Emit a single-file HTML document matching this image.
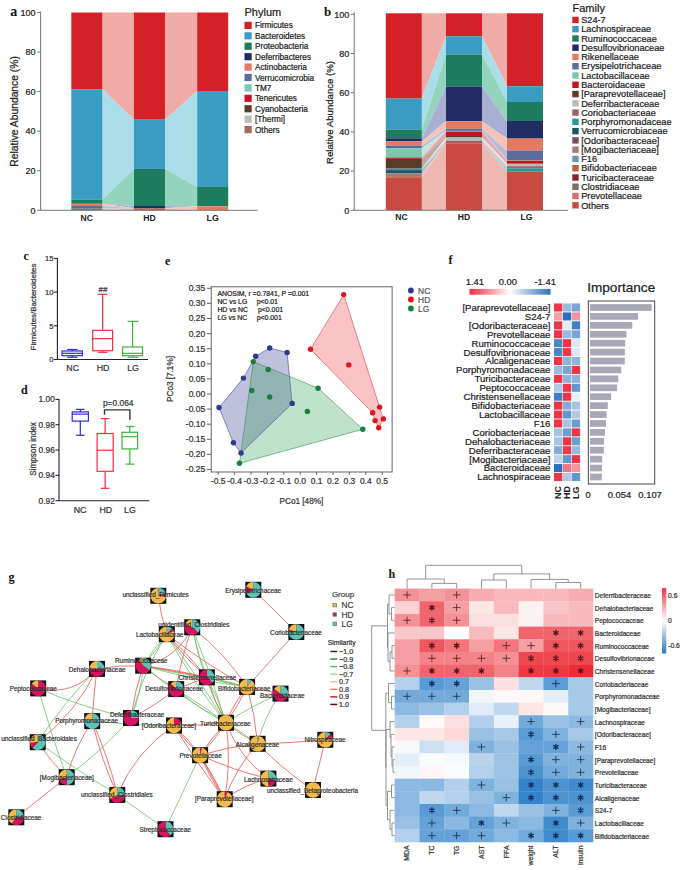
<!DOCTYPE html>
<html><head><meta charset="utf-8"><style>
html,body{margin:0;padding:0;background:#fff;width:683px;height:870px;overflow:hidden}
svg{display:block}
</style></head><body>
<svg width="683" height="870" viewBox="0 0 683 870">
<rect width="683" height="870" fill="#fff"/>
<text x="10.30" y="16.00" font-size="14" text-anchor="start" fill="#111" font-weight="bold" font-family='"Liberation Serif", serif' >a</text>
<polygon points="102.30,12.50 134.00,12.50 134.00,119.70 102.30,89.30" fill="#F0ABA6" />
<polygon points="102.30,89.30 134.00,119.70 134.00,168.90 102.30,199.80" fill="#A9DDE7" />
<polygon points="102.30,199.80 134.00,168.90 134.00,206.00 102.30,203.80" fill="#94D4BE" />
<polygon points="102.30,203.80 134.00,206.00 134.00,208.20 102.30,203.80" fill="#A8AFD2" />
<polygon points="102.30,203.80 134.00,208.20 134.00,208.20 102.30,206.00" fill="#F6C4B6" />
<polygon points="102.30,206.00 134.00,208.20 134.00,208.20 102.30,208.20" fill="#B6BDDA" />
<polygon points="102.30,208.20 134.00,208.20 134.00,208.20 102.30,210.30" fill="#c2c7c9" />
<polygon points="102.30,210.30 134.00,208.20 134.00,210.30 102.30,210.30" fill="#dabdbd" />
<polygon points="165.00,12.50 197.20,12.50 197.20,91.00 165.00,119.70" fill="#F0ABA6" />
<polygon points="165.00,119.70 197.20,91.00 197.20,187.00 165.00,168.90" fill="#A9DDE7" />
<polygon points="165.00,168.90 197.20,187.00 197.20,206.30 165.00,206.00" fill="#94D4BE" />
<polygon points="165.00,206.00 197.20,206.30 197.20,206.30 165.00,208.20" fill="#A8AFD2" />
<polygon points="165.00,208.20 197.20,206.30 197.20,210.30 165.00,208.20" fill="#F6C4B6" />
<polygon points="165.00,208.20 197.20,210.30 197.20,210.30 165.00,210.30" fill="#dabdbd" />
<rect x="71.30" y="12.50" width="31.00" height="76.80" fill="#D42027" />
<rect x="71.30" y="89.30" width="31.00" height="110.50" fill="#3A9CC0" />
<rect x="71.30" y="199.80" width="31.00" height="4.00" fill="#1D7D5E" />
<rect x="71.30" y="203.80" width="31.00" height="2.20" fill="#E57A63" />
<rect x="71.30" y="206.00" width="31.00" height="2.20" fill="#5B6B9B" />
<rect x="71.30" y="208.20" width="31.00" height="2.10" fill="#6E7C80" />
<rect x="134.00" y="12.50" width="31.00" height="107.20" fill="#D42027" />
<rect x="134.00" y="119.70" width="31.00" height="49.20" fill="#3A9CC0" />
<rect x="134.00" y="168.90" width="31.00" height="37.10" fill="#1D7D5E" />
<rect x="134.00" y="206.00" width="31.00" height="2.20" fill="#1F2D63" />
<rect x="134.00" y="208.20" width="31.00" height="2.10" fill="#A86464" />
<rect x="197.20" y="12.50" width="31.00" height="78.50" fill="#D42027" />
<rect x="197.20" y="91.00" width="31.00" height="96.00" fill="#3A9CC0" />
<rect x="197.20" y="187.00" width="31.00" height="19.30" fill="#1D7D5E" />
<rect x="197.20" y="206.30" width="31.00" height="4.00" fill="#E57A63" />
<line x1="40.60" y1="11.50" x2="40.60" y2="210.30" stroke="#777" stroke-width="1" />
<line x1="40.60" y1="210.30" x2="257.50" y2="210.30" stroke="#777" stroke-width="1" />
<line x1="37.10" y1="210.30" x2="40.60" y2="210.30" stroke="#777" stroke-width="1" />
<text x="35.60" y="213.50" font-size="9" text-anchor="end" fill="#222" font-weight="normal" font-family='"Liberation Sans", sans-serif'  stroke="#222" stroke-width="0.22">0</text>
<line x1="37.10" y1="170.74" x2="40.60" y2="170.74" stroke="#777" stroke-width="1" />
<text x="35.60" y="173.94" font-size="9" text-anchor="end" fill="#222" font-weight="normal" font-family='"Liberation Sans", sans-serif'  stroke="#222" stroke-width="0.22">20</text>
<line x1="37.10" y1="131.18" x2="40.60" y2="131.18" stroke="#777" stroke-width="1" />
<text x="35.60" y="134.38" font-size="9" text-anchor="end" fill="#222" font-weight="normal" font-family='"Liberation Sans", sans-serif'  stroke="#222" stroke-width="0.22">40</text>
<line x1="37.10" y1="91.62" x2="40.60" y2="91.62" stroke="#777" stroke-width="1" />
<text x="35.60" y="94.82" font-size="9" text-anchor="end" fill="#222" font-weight="normal" font-family='"Liberation Sans", sans-serif'  stroke="#222" stroke-width="0.22">60</text>
<line x1="37.10" y1="52.06" x2="40.60" y2="52.06" stroke="#777" stroke-width="1" />
<text x="35.60" y="55.26" font-size="9" text-anchor="end" fill="#222" font-weight="normal" font-family='"Liberation Sans", sans-serif'  stroke="#222" stroke-width="0.22">80</text>
<line x1="37.10" y1="12.50" x2="40.60" y2="12.50" stroke="#777" stroke-width="1" />
<text x="35.60" y="15.70" font-size="9" text-anchor="end" fill="#222" font-weight="normal" font-family='"Liberation Sans", sans-serif'  stroke="#222" stroke-width="0.22">100</text>
<text x="86.80" y="220.80" font-size="9.5" text-anchor="middle" fill="#222" font-weight="bold" font-family='"Liberation Sans", sans-serif' textLength="12.4" lengthAdjust="spacingAndGlyphs">NC</text>
<text x="149.50" y="220.80" font-size="9.5" text-anchor="middle" fill="#222" font-weight="bold" font-family='"Liberation Sans", sans-serif' textLength="12.4" lengthAdjust="spacingAndGlyphs">HD</text>
<text x="212.70" y="220.80" font-size="9.5" text-anchor="middle" fill="#222" font-weight="bold" font-family='"Liberation Sans", sans-serif' textLength="12.4" lengthAdjust="spacingAndGlyphs">LG</text>
<text x="18.00" y="111.40" font-size="10.3" text-anchor="middle" fill="#222" font-weight="normal" font-family='"Liberation Sans", sans-serif' transform="rotate(-90 18 111.4)"  stroke="#222" stroke-width="0.22">Relative Abundance (%)</text>
<text x="244.50" y="15.50" font-size="11" text-anchor="start" fill="#222" font-weight="normal" font-family='"Liberation Sans", sans-serif'  stroke="#222" stroke-width="0.22">Phylum</text>
<rect x="244.50" y="21.80" width="7.20" height="7.20" fill="#D42027" />
<text x="255.00" y="28.40" font-size="8.2" text-anchor="start" fill="#222" font-weight="normal" font-family='"Liberation Sans", sans-serif'  stroke="#222" stroke-width="0.22">Firmicutes</text>
<rect x="244.50" y="32.22" width="7.20" height="7.20" fill="#3A9CC0" />
<text x="255.00" y="38.82" font-size="8.2" text-anchor="start" fill="#222" font-weight="normal" font-family='"Liberation Sans", sans-serif'  stroke="#222" stroke-width="0.22">Bacteroidetes</text>
<rect x="244.50" y="42.64" width="7.20" height="7.20" fill="#1D7D5E" />
<text x="255.00" y="49.24" font-size="8.2" text-anchor="start" fill="#222" font-weight="normal" font-family='"Liberation Sans", sans-serif'  stroke="#222" stroke-width="0.22">Proteobacteria</text>
<rect x="244.50" y="53.06" width="7.20" height="7.20" fill="#1F2D63" />
<text x="255.00" y="59.66" font-size="8.2" text-anchor="start" fill="#222" font-weight="normal" font-family='"Liberation Sans", sans-serif'  stroke="#222" stroke-width="0.22">Deferribacteres</text>
<rect x="244.50" y="63.48" width="7.20" height="7.20" fill="#E57A63" />
<text x="255.00" y="70.08" font-size="8.2" text-anchor="start" fill="#222" font-weight="normal" font-family='"Liberation Sans", sans-serif'  stroke="#222" stroke-width="0.22">Actinobacteria</text>
<rect x="244.50" y="73.90" width="7.20" height="7.20" fill="#5B6B9B" />
<text x="255.00" y="80.50" font-size="8.2" text-anchor="start" fill="#222" font-weight="normal" font-family='"Liberation Sans", sans-serif'  stroke="#222" stroke-width="0.22">Verrucomicrobia</text>
<rect x="244.50" y="84.32" width="7.20" height="7.20" fill="#7CC8AE" />
<text x="255.00" y="90.92" font-size="8.2" text-anchor="start" fill="#222" font-weight="normal" font-family='"Liberation Sans", sans-serif'  stroke="#222" stroke-width="0.22">TM7</text>
<rect x="244.50" y="94.74" width="7.20" height="7.20" fill="#C8101E" />
<text x="255.00" y="101.34" font-size="8.2" text-anchor="start" fill="#222" font-weight="normal" font-family='"Liberation Sans", sans-serif'  stroke="#222" stroke-width="0.22">Tenericutes</text>
<rect x="244.50" y="105.16" width="7.20" height="7.20" fill="#5C3A28" />
<text x="255.00" y="111.76" font-size="8.2" text-anchor="start" fill="#222" font-weight="normal" font-family='"Liberation Sans", sans-serif'  stroke="#222" stroke-width="0.22">Cyanobacteria</text>
<rect x="244.50" y="115.58" width="7.20" height="7.20" fill="#B8BCB8" />
<text x="255.00" y="122.18" font-size="8.2" text-anchor="start" fill="#222" font-weight="normal" font-family='"Liberation Sans", sans-serif'  stroke="#222" stroke-width="0.22">[Thermi]</text>
<rect x="244.50" y="126.00" width="7.20" height="7.20" fill="#A86464" />
<text x="255.00" y="132.60" font-size="8.2" text-anchor="start" fill="#222" font-weight="normal" font-family='"Liberation Sans", sans-serif'  stroke="#222" stroke-width="0.22">Others</text>
<text x="324.00" y="16.00" font-size="13" text-anchor="start" fill="#111" font-weight="bold" font-family='"Liberation Serif", serif' >b</text>
<polygon points="421.80,13.30 446.00,13.30 446.00,36.40 421.80,98.60" fill="#F0ABA6" />
<polygon points="421.80,98.60 446.00,36.40 446.00,54.60 421.80,129.60" fill="#A9DDE7" />
<polygon points="421.80,129.60 446.00,54.60 446.00,86.50 421.80,138.30" fill="#94D4BE" />
<polygon points="421.80,138.30 446.00,86.50 446.00,121.30 421.80,141.40" fill="#A8AFD2" />
<polygon points="421.80,141.40 446.00,121.30 446.00,128.70 421.80,145.50" fill="#F6C4B6" />
<polygon points="421.80,145.50 446.00,128.70 446.00,130.90 421.80,148.40" fill="#B6BDDA" />
<polygon points="421.80,148.40 446.00,130.90 446.00,131.60 421.80,157.60" fill="#C2E8DA" />
<polygon points="421.80,157.60 446.00,131.60 446.00,136.00 421.80,158.80" fill="#F0A0A8" />
<polygon points="421.80,158.80 446.00,136.00 446.00,137.50 421.80,168.60" fill="#baaca4" />
<polygon points="421.80,168.60 446.00,137.50 446.00,140.70 421.80,168.60" fill="#e1e2e1" />
<polygon points="421.80,168.60 446.00,140.70 446.00,143.30 421.80,168.60" fill="#d7bcbf" />
<polygon points="421.80,168.60 446.00,143.30 446.00,143.30 421.80,170.10" fill="#a5d4d2" />
<polygon points="421.80,170.10 446.00,143.30 446.00,143.30 421.80,173.20" fill="#a0b7be" />
<polygon points="421.80,173.20 446.00,143.30 446.00,143.30 421.80,176.20" fill="#dac6c9" />
<polygon points="421.80,176.20 446.00,143.30 446.00,143.30 421.80,177.80" fill="#e1bcad" />
<polygon points="421.80,177.80 446.00,143.30 446.00,210.30 421.80,210.30" fill="#EDB7B2" />
<polygon points="482.00,13.30 507.00,13.30 507.00,86.20 482.00,36.40" fill="#F0ABA6" />
<polygon points="482.00,36.40 507.00,86.20 507.00,102.00 482.00,54.60" fill="#A9DDE7" />
<polygon points="482.00,54.60 507.00,102.00 507.00,121.00 482.00,86.50" fill="#94D4BE" />
<polygon points="482.00,86.50 507.00,121.00 507.00,138.60 482.00,121.30" fill="#A8AFD2" />
<polygon points="482.00,121.30 507.00,138.60 507.00,150.50 482.00,128.70" fill="#F6C4B6" />
<polygon points="482.00,128.70 507.00,150.50 507.00,160.00 482.00,130.90" fill="#B6BDDA" />
<polygon points="482.00,130.90 507.00,160.00 507.00,160.70 482.00,131.60" fill="#C2E8DA" />
<polygon points="482.00,131.60 507.00,160.70 507.00,163.80 482.00,136.00" fill="#F0A0A8" />
<polygon points="482.00,136.00 507.00,163.80 507.00,163.80 482.00,137.50" fill="#baaca4" />
<polygon points="482.00,137.50 507.00,163.80 507.00,166.20 482.00,140.70" fill="#e1e2e1" />
<polygon points="482.00,140.70 507.00,166.20 507.00,168.20 482.00,143.30" fill="#d7bcbf" />
<polygon points="482.00,143.30 507.00,168.20 507.00,171.70 482.00,143.30" fill="#a5d4d2" />
<polygon points="482.00,143.30 507.00,171.70 507.00,210.30 482.00,210.30" fill="#EDB7B2" />
<rect x="385.80" y="13.30" width="36.00" height="85.30" fill="#D42027" />
<rect x="385.80" y="98.60" width="36.00" height="31.00" fill="#3A9CC0" />
<rect x="385.80" y="129.60" width="36.00" height="8.70" fill="#1D7D5E" />
<rect x="385.80" y="138.30" width="36.00" height="3.10" fill="#1F2D63" />
<rect x="385.80" y="141.40" width="36.00" height="4.10" fill="#E57A63" />
<rect x="385.80" y="145.50" width="36.00" height="2.90" fill="#5B6B9B" />
<rect x="385.80" y="148.40" width="36.00" height="9.20" fill="#7CC8AE" />
<rect x="385.80" y="157.60" width="36.00" height="1.20" fill="#C8101E" />
<rect x="385.80" y="158.80" width="36.00" height="9.80" fill="#5C3A28" />
<rect x="385.80" y="168.60" width="36.00" height="1.50" fill="#2A9A94" />
<rect x="385.80" y="170.10" width="36.00" height="3.10" fill="#1D5566" />
<rect x="385.80" y="173.20" width="36.00" height="3.00" fill="#A87880" />
<rect x="385.80" y="176.20" width="36.00" height="1.60" fill="#B8603E" />
<rect x="385.80" y="177.80" width="36.00" height="32.50" fill="#C84A40" />
<rect x="446.00" y="13.30" width="36.00" height="23.10" fill="#D42027" />
<rect x="446.00" y="36.40" width="36.00" height="18.20" fill="#3A9CC0" />
<rect x="446.00" y="54.60" width="36.00" height="31.90" fill="#1D7D5E" />
<rect x="446.00" y="86.50" width="36.00" height="34.80" fill="#1F2D63" />
<rect x="446.00" y="121.30" width="36.00" height="7.40" fill="#E57A63" />
<rect x="446.00" y="128.70" width="36.00" height="2.20" fill="#5B6B9B" />
<rect x="446.00" y="130.90" width="36.00" height="0.70" fill="#7CC8AE" />
<rect x="446.00" y="131.60" width="36.00" height="4.40" fill="#C8101E" />
<rect x="446.00" y="136.00" width="36.00" height="1.50" fill="#5C3A28" />
<rect x="446.00" y="137.50" width="36.00" height="3.20" fill="#B8BCB8" />
<rect x="446.00" y="140.70" width="36.00" height="2.60" fill="#A06068" />
<rect x="446.00" y="143.30" width="36.00" height="67.00" fill="#C84A40" />
<rect x="507.00" y="13.30" width="36.00" height="72.90" fill="#D42027" />
<rect x="507.00" y="86.20" width="36.00" height="15.80" fill="#3A9CC0" />
<rect x="507.00" y="102.00" width="36.00" height="19.00" fill="#1D7D5E" />
<rect x="507.00" y="121.00" width="36.00" height="17.60" fill="#1F2D63" />
<rect x="507.00" y="138.60" width="36.00" height="11.90" fill="#E57A63" />
<rect x="507.00" y="150.50" width="36.00" height="9.50" fill="#5B6B9B" />
<rect x="507.00" y="160.00" width="36.00" height="0.70" fill="#7CC8AE" />
<rect x="507.00" y="160.70" width="36.00" height="3.10" fill="#C8101E" />
<rect x="507.00" y="163.80" width="36.00" height="2.40" fill="#B8BCB8" />
<rect x="507.00" y="166.20" width="36.00" height="2.00" fill="#A06068" />
<rect x="507.00" y="168.20" width="36.00" height="3.50" fill="#2A9A94" />
<rect x="507.00" y="171.70" width="36.00" height="38.60" fill="#C84A40" />
<line x1="354.20" y1="12.30" x2="354.20" y2="210.30" stroke="#777" stroke-width="1" />
<line x1="354.20" y1="210.30" x2="568.00" y2="210.30" stroke="#777" stroke-width="1" />
<line x1="350.70" y1="210.30" x2="354.20" y2="210.30" stroke="#777" stroke-width="1" />
<text x="349.20" y="213.50" font-size="9" text-anchor="end" fill="#222" font-weight="normal" font-family='"Liberation Sans", sans-serif'  stroke="#222" stroke-width="0.22">0</text>
<line x1="350.70" y1="171.10" x2="354.20" y2="171.10" stroke="#777" stroke-width="1" />
<text x="349.20" y="174.30" font-size="9" text-anchor="end" fill="#222" font-weight="normal" font-family='"Liberation Sans", sans-serif'  stroke="#222" stroke-width="0.22">20</text>
<line x1="350.70" y1="131.90" x2="354.20" y2="131.90" stroke="#777" stroke-width="1" />
<text x="349.20" y="135.10" font-size="9" text-anchor="end" fill="#222" font-weight="normal" font-family='"Liberation Sans", sans-serif'  stroke="#222" stroke-width="0.22">40</text>
<line x1="350.70" y1="92.70" x2="354.20" y2="92.70" stroke="#777" stroke-width="1" />
<text x="349.20" y="95.90" font-size="9" text-anchor="end" fill="#222" font-weight="normal" font-family='"Liberation Sans", sans-serif'  stroke="#222" stroke-width="0.22">60</text>
<line x1="350.70" y1="53.50" x2="354.20" y2="53.50" stroke="#777" stroke-width="1" />
<text x="349.20" y="56.70" font-size="9" text-anchor="end" fill="#222" font-weight="normal" font-family='"Liberation Sans", sans-serif'  stroke="#222" stroke-width="0.22">80</text>
<line x1="350.70" y1="14.30" x2="354.20" y2="14.30" stroke="#777" stroke-width="1" />
<text x="349.20" y="17.50" font-size="9" text-anchor="end" fill="#222" font-weight="normal" font-family='"Liberation Sans", sans-serif'  stroke="#222" stroke-width="0.22">100</text>
<text x="401.50" y="219.90" font-size="8.6" text-anchor="middle" fill="#222" font-weight="bold" font-family='"Liberation Sans", sans-serif' >NC</text>
<text x="464.00" y="219.90" font-size="8.6" text-anchor="middle" fill="#222" font-weight="bold" font-family='"Liberation Sans", sans-serif' >HD</text>
<text x="526.50" y="219.90" font-size="8.6" text-anchor="middle" fill="#222" font-weight="bold" font-family='"Liberation Sans", sans-serif' >LG</text>
<text x="332.50" y="112.50" font-size="9.6" text-anchor="middle" fill="#222" font-weight="normal" font-family='"Liberation Sans", sans-serif' transform="rotate(-90 332.5 112.5)"  stroke="#222" stroke-width="0.22">Relative Abundance (%)</text>
<text x="572.50" y="11.70" font-size="11" text-anchor="start" fill="#222" font-weight="normal" font-family='"Liberation Sans", sans-serif'  stroke="#222" stroke-width="0.22">Family</text>
<rect x="572.30" y="16.70" width="6.40" height="6.40" fill="#D42027" />
<text x="581.20" y="23.10" font-size="9.2" text-anchor="start" fill="#222" font-weight="normal" font-family='"Liberation Sans", sans-serif'  stroke="#222" stroke-width="0.22">S24-7</text>
<rect x="572.30" y="25.97" width="6.40" height="6.40" fill="#3A9CC0" />
<text x="581.20" y="32.37" font-size="9.2" text-anchor="start" fill="#222" font-weight="normal" font-family='"Liberation Sans", sans-serif'  stroke="#222" stroke-width="0.22">Lachnospiraceae</text>
<rect x="572.30" y="35.24" width="6.40" height="6.40" fill="#1D7D5E" />
<text x="581.20" y="41.64" font-size="9.2" text-anchor="start" fill="#222" font-weight="normal" font-family='"Liberation Sans", sans-serif'  stroke="#222" stroke-width="0.22">Ruminococcaceae</text>
<rect x="572.30" y="44.51" width="6.40" height="6.40" fill="#1F2D63" />
<text x="581.20" y="50.91" font-size="9.2" text-anchor="start" fill="#222" font-weight="normal" font-family='"Liberation Sans", sans-serif'  stroke="#222" stroke-width="0.22">Desulfovibrionaceae</text>
<rect x="572.30" y="53.78" width="6.40" height="6.40" fill="#E57A63" />
<text x="581.20" y="60.18" font-size="9.2" text-anchor="start" fill="#222" font-weight="normal" font-family='"Liberation Sans", sans-serif'  stroke="#222" stroke-width="0.22">Rikenellaceae</text>
<rect x="572.30" y="63.05" width="6.40" height="6.40" fill="#5B6B9B" />
<text x="581.20" y="69.45" font-size="9.2" text-anchor="start" fill="#222" font-weight="normal" font-family='"Liberation Sans", sans-serif'  stroke="#222" stroke-width="0.22">Erysipelotrichaceae</text>
<rect x="572.30" y="72.32" width="6.40" height="6.40" fill="#7CC8AE" />
<text x="581.20" y="78.72" font-size="9.2" text-anchor="start" fill="#222" font-weight="normal" font-family='"Liberation Sans", sans-serif'  stroke="#222" stroke-width="0.22">Lactobacillaceae</text>
<rect x="572.30" y="81.59" width="6.40" height="6.40" fill="#C8101E" />
<text x="581.20" y="87.99" font-size="9.2" text-anchor="start" fill="#222" font-weight="normal" font-family='"Liberation Sans", sans-serif'  stroke="#222" stroke-width="0.22">Bacteroidaceae</text>
<rect x="572.30" y="90.86" width="6.40" height="6.40" fill="#5C3A28" />
<text x="581.20" y="97.26" font-size="9.2" text-anchor="start" fill="#222" font-weight="normal" font-family='"Liberation Sans", sans-serif'  stroke="#222" stroke-width="0.22">[Paraprevotellaceae]</text>
<rect x="572.30" y="100.13" width="6.40" height="6.40" fill="#B8BCB8" />
<text x="581.20" y="106.53" font-size="9.2" text-anchor="start" fill="#222" font-weight="normal" font-family='"Liberation Sans", sans-serif'  stroke="#222" stroke-width="0.22">Deferribacteraceae</text>
<rect x="572.30" y="109.40" width="6.40" height="6.40" fill="#A06068" />
<text x="581.20" y="115.80" font-size="9.2" text-anchor="start" fill="#222" font-weight="normal" font-family='"Liberation Sans", sans-serif'  stroke="#222" stroke-width="0.22">Coriobacteriaceae</text>
<rect x="572.30" y="118.67" width="6.40" height="6.40" fill="#2A9A94" />
<text x="581.20" y="125.07" font-size="9.2" text-anchor="start" fill="#222" font-weight="normal" font-family='"Liberation Sans", sans-serif'  stroke="#222" stroke-width="0.22">Porphyromonadaceae</text>
<rect x="572.30" y="127.94" width="6.40" height="6.40" fill="#1D5566" />
<text x="581.20" y="134.34" font-size="9.2" text-anchor="start" fill="#222" font-weight="normal" font-family='"Liberation Sans", sans-serif'  stroke="#222" stroke-width="0.22">Verrucomicrobiaceae</text>
<rect x="572.30" y="137.21" width="6.40" height="6.40" fill="#7A4A68" />
<text x="581.20" y="143.61" font-size="9.2" text-anchor="start" fill="#222" font-weight="normal" font-family='"Liberation Sans", sans-serif'  stroke="#222" stroke-width="0.22">[Odoribacteraceae]</text>
<rect x="572.30" y="146.48" width="6.40" height="6.40" fill="#A87880" />
<text x="581.20" y="152.88" font-size="9.2" text-anchor="start" fill="#222" font-weight="normal" font-family='"Liberation Sans", sans-serif'  stroke="#222" stroke-width="0.22">[Mogibacteriaceae]</text>
<rect x="572.30" y="155.75" width="6.40" height="6.40" fill="#6A9AA8" />
<text x="581.20" y="162.15" font-size="9.2" text-anchor="start" fill="#222" font-weight="normal" font-family='"Liberation Sans", sans-serif'  stroke="#222" stroke-width="0.22">F16</text>
<rect x="572.30" y="165.02" width="6.40" height="6.40" fill="#B8603E" />
<text x="581.20" y="171.42" font-size="9.2" text-anchor="start" fill="#222" font-weight="normal" font-family='"Liberation Sans", sans-serif'  stroke="#222" stroke-width="0.22">Bifidobacteriaceae</text>
<rect x="572.30" y="174.29" width="6.40" height="6.40" fill="#8A2424" />
<text x="581.20" y="180.69" font-size="9.2" text-anchor="start" fill="#222" font-weight="normal" font-family='"Liberation Sans", sans-serif'  stroke="#222" stroke-width="0.22">Turicibacteraceae</text>
<rect x="572.30" y="183.56" width="6.40" height="6.40" fill="#7A7262" />
<text x="581.20" y="189.96" font-size="9.2" text-anchor="start" fill="#222" font-weight="normal" font-family='"Liberation Sans", sans-serif'  stroke="#222" stroke-width="0.22">Clostridiaceae</text>
<rect x="572.30" y="192.83" width="6.40" height="6.40" fill="#D87068" />
<text x="581.20" y="199.23" font-size="9.2" text-anchor="start" fill="#222" font-weight="normal" font-family='"Liberation Sans", sans-serif'  stroke="#222" stroke-width="0.22">Prevotellaceae</text>
<rect x="572.30" y="202.10" width="6.40" height="6.40" fill="#C84A40" />
<text x="581.20" y="208.50" font-size="9.2" text-anchor="start" fill="#222" font-weight="normal" font-family='"Liberation Sans", sans-serif'  stroke="#222" stroke-width="0.22">Others</text>
<text x="23.50" y="259.80" font-size="12" text-anchor="start" fill="#111" font-weight="bold" font-family='"Liberation Serif", serif' >c</text>
<line x1="57.40" y1="257.90" x2="57.40" y2="359.50" stroke="#222" stroke-width="1.1" />
<line x1="57.40" y1="359.50" x2="148.00" y2="359.50" stroke="#222" stroke-width="1.1" />
<line x1="53.90" y1="359.50" x2="57.40" y2="359.50" stroke="#222" stroke-width="1.1" />
<text x="53.40" y="362.20" font-size="7.6" text-anchor="end" fill="#333" font-weight="normal" font-family='"Liberation Sans", sans-serif'  stroke="#333" stroke-width="0.22">0</text>
<line x1="53.90" y1="325.80" x2="57.40" y2="325.80" stroke="#222" stroke-width="1.1" />
<text x="53.40" y="328.50" font-size="7.6" text-anchor="end" fill="#333" font-weight="normal" font-family='"Liberation Sans", sans-serif'  stroke="#333" stroke-width="0.22">5</text>
<line x1="53.90" y1="292.10" x2="57.40" y2="292.10" stroke="#222" stroke-width="1.1" />
<text x="53.40" y="294.80" font-size="7.6" text-anchor="end" fill="#333" font-weight="normal" font-family='"Liberation Sans", sans-serif'  stroke="#333" stroke-width="0.22">10</text>
<line x1="53.90" y1="258.40" x2="57.40" y2="258.40" stroke="#222" stroke-width="1.1" />
<text x="53.40" y="261.10" font-size="7.6" text-anchor="end" fill="#333" font-weight="normal" font-family='"Liberation Sans", sans-serif'  stroke="#333" stroke-width="0.22">15</text>
<g stroke="#2B2BD8" stroke-width="1.2" fill="none">
<rect x="62.00" y="351.00" width="20.40" height="4.70"/>
<line x1="62.00" y1="353.30" x2="82.40" y2="353.30"/>
<line x1="72.20" y1="351.00" x2="72.20" y2="349.50"/>
<line x1="72.20" y1="355.70" x2="72.20" y2="357.20"/>
<line x1="67.20" y1="349.50" x2="77.50" y2="349.50"/>
<line x1="67.20" y1="357.20" x2="77.50" y2="357.20"/>
</g>
<g stroke="#E8323C" stroke-width="1.2" fill="none">
<rect x="92.70" y="330.30" width="19.90" height="20.40"/>
<line x1="92.70" y1="338.70" x2="112.60" y2="338.70"/>
<line x1="102.65" y1="330.30" x2="102.65" y2="294.30"/>
<line x1="102.65" y1="350.70" x2="102.65" y2="352.30"/>
<line x1="97.80" y1="294.30" x2="107.50" y2="294.30"/>
<line x1="97.80" y1="352.30" x2="107.50" y2="352.30"/>
</g>
<g stroke="#3CB33C" stroke-width="1.2" fill="none">
<rect x="122.60" y="347.00" width="20.00" height="8.70"/>
<line x1="122.60" y1="353.30" x2="142.60" y2="353.30"/>
<line x1="132.60" y1="347.00" x2="132.60" y2="321.40"/>
<line x1="132.60" y1="355.70" x2="132.60" y2="357.20"/>
<line x1="127.60" y1="321.40" x2="138.60" y2="321.40"/>
<line x1="127.60" y1="357.20" x2="138.60" y2="357.20"/>
</g>
<text x="103.00" y="291.60" font-size="8" text-anchor="middle" fill="#333" font-weight="normal" font-family='"Liberation Sans", sans-serif'  stroke="#333" stroke-width="0.22">##</text>
<text x="72.70" y="371.40" font-size="8.8" text-anchor="middle" fill="#333" font-weight="normal" font-family='"Liberation Sans", sans-serif'  stroke="#333" stroke-width="0.22">NC</text>
<text x="103.00" y="371.40" font-size="8.8" text-anchor="middle" fill="#333" font-weight="normal" font-family='"Liberation Sans", sans-serif'  stroke="#333" stroke-width="0.22">HD</text>
<text x="133.10" y="371.40" font-size="8.8" text-anchor="middle" fill="#333" font-weight="normal" font-family='"Liberation Sans", sans-serif'  stroke="#333" stroke-width="0.22">LG</text>
<text x="36.20" y="307.00" font-size="7.9" text-anchor="middle" fill="#333" font-weight="normal" font-family='"Liberation Sans", sans-serif' transform="rotate(-90 36.2 307)"  stroke="#333" stroke-width="0.22">Firmicutes/Bacteroidetes</text>
<text x="21.00" y="393.50" font-size="12" text-anchor="start" fill="#111" font-weight="bold" font-family='"Liberation Serif", serif' >d</text>
<line x1="59.00" y1="398.90" x2="59.00" y2="500.70" stroke="#222" stroke-width="1.1" />
<line x1="59.00" y1="500.70" x2="149.30" y2="500.70" stroke="#222" stroke-width="1.1" />
<line x1="55.50" y1="500.70" x2="59.00" y2="500.70" stroke="#222" stroke-width="1.1" />
<text x="54.80" y="503.70" font-size="8.4" text-anchor="end" fill="#333" font-weight="normal" font-family='"Liberation Sans", sans-serif'  stroke="#333" stroke-width="0.22">0.92</text>
<line x1="55.50" y1="475.38" x2="59.00" y2="475.38" stroke="#222" stroke-width="1.1" />
<text x="54.80" y="478.38" font-size="8.4" text-anchor="end" fill="#333" font-weight="normal" font-family='"Liberation Sans", sans-serif'  stroke="#333" stroke-width="0.22">0.94</text>
<line x1="55.50" y1="450.05" x2="59.00" y2="450.05" stroke="#222" stroke-width="1.1" />
<text x="54.80" y="453.05" font-size="8.4" text-anchor="end" fill="#333" font-weight="normal" font-family='"Liberation Sans", sans-serif'  stroke="#333" stroke-width="0.22">0.96</text>
<line x1="55.50" y1="424.72" x2="59.00" y2="424.72" stroke="#222" stroke-width="1.1" />
<text x="54.80" y="427.72" font-size="8.4" text-anchor="end" fill="#333" font-weight="normal" font-family='"Liberation Sans", sans-serif'  stroke="#333" stroke-width="0.22">0.98</text>
<line x1="55.50" y1="399.40" x2="59.00" y2="399.40" stroke="#222" stroke-width="1.1" />
<text x="54.80" y="402.40" font-size="8.4" text-anchor="end" fill="#333" font-weight="normal" font-family='"Liberation Sans", sans-serif'  stroke="#333" stroke-width="0.22">1.00</text>
<g stroke="#2B2BD8" stroke-width="1.2" fill="none">
<rect x="72.20" y="411.90" width="16.20" height="9.20"/>
<line x1="72.20" y1="414.10" x2="88.40" y2="414.10"/>
<line x1="80.30" y1="411.90" x2="80.30" y2="409.40"/>
<line x1="80.30" y1="421.10" x2="80.30" y2="435.30"/>
<line x1="75.90" y1="409.40" x2="84.60" y2="409.40"/>
<line x1="75.90" y1="435.30" x2="84.60" y2="435.30"/>
</g>
<g stroke="#E8323C" stroke-width="1.2" fill="none">
<rect x="97.10" y="433.50" width="16.10" height="37.80"/>
<line x1="97.10" y1="450.20" x2="113.20" y2="450.20"/>
<line x1="105.15" y1="433.50" x2="105.15" y2="418.60"/>
<line x1="105.15" y1="471.30" x2="105.15" y2="488.30"/>
<line x1="100.80" y1="418.60" x2="109.50" y2="418.60"/>
<line x1="100.80" y1="488.30" x2="109.50" y2="488.30"/>
</g>
<g stroke="#3CB33C" stroke-width="1.2" fill="none">
<rect x="122.00" y="432.30" width="15.60" height="16.60"/>
<line x1="122.00" y1="436.70" x2="137.60" y2="436.70"/>
<line x1="129.80" y1="432.30" x2="129.80" y2="426.50"/>
<line x1="129.80" y1="448.90" x2="129.80" y2="464.10"/>
<line x1="125.70" y1="426.50" x2="134.40" y2="426.50"/>
<line x1="125.70" y1="464.10" x2="134.40" y2="464.10"/>
</g>
<polyline points="104.5,414.8 104.5,409.9 129.9,409.9 129.9,419.8" fill="none" stroke="#333" stroke-width="1.4"/>
<text x="118.20" y="405.90" font-size="8.4" text-anchor="middle" fill="#333" font-weight="normal" font-family='"Liberation Sans", sans-serif'  stroke="#333" stroke-width="0.22">p=0.064</text>
<text x="80.10" y="512.60" font-size="8.8" text-anchor="middle" fill="#333" font-weight="normal" font-family='"Liberation Sans", sans-serif'  stroke="#333" stroke-width="0.22">NC</text>
<text x="105.80" y="512.60" font-size="8.8" text-anchor="middle" fill="#333" font-weight="normal" font-family='"Liberation Sans", sans-serif'  stroke="#333" stroke-width="0.22">HD</text>
<text x="129.90" y="512.60" font-size="8.8" text-anchor="middle" fill="#333" font-weight="normal" font-family='"Liberation Sans", sans-serif'  stroke="#333" stroke-width="0.22">LG</text>
<text x="36.30" y="449.00" font-size="8.2" text-anchor="middle" fill="#333" font-weight="normal" font-family='"Liberation Sans", sans-serif' transform="rotate(-90 36.3 449)"  stroke="#333" stroke-width="0.22">Simpson index</text>
<text x="165.00" y="265.00" font-size="12" text-anchor="start" fill="#111" font-weight="bold" font-family='"Liberation Serif", serif' >e</text>
<rect x="211.20" y="286.80" width="180.90" height="185.20" fill="none" stroke="#555" stroke-width="0.9"/>
<polygon points="219.00,407.50 243.40,378.10 255.70,356.20 269.70,348.00 287.10,352.50 292.20,403.40 241.00,453.00 233.40,442.80" fill="#3A3F96" fill-opacity="0.33" stroke="#3A3F96" stroke-opacity="0.8" stroke-width="0.7"/>
<polygon points="253.30,361.70 318.10,388.20 362.80,429.20 239.50,463.30" fill="#2E9A55" fill-opacity="0.3" stroke="#2E8A4A" stroke-opacity="0.8" stroke-width="0.7"/>
<polygon points="343.70,294.60 383.30,418.90 378.70,427.80 375.10,420.60 372.60,412.80 310.50,349.30" fill="#EE3A44" fill-opacity="0.3" stroke="#D8303A" stroke-opacity="0.8" stroke-width="0.7"/>
<circle cx="219.0" cy="407.5" r="2.7" fill="#2E3A8C"/>
<circle cx="243.4" cy="378.1" r="2.7" fill="#2E3A8C"/>
<circle cx="255.7" cy="356.2" r="2.7" fill="#2E3A8C"/>
<circle cx="269.7" cy="348.0" r="2.7" fill="#2E3A8C"/>
<circle cx="287.1" cy="352.5" r="2.7" fill="#2E3A8C"/>
<circle cx="292.2" cy="403.4" r="2.7" fill="#2E3A8C"/>
<circle cx="241.0" cy="453.0" r="2.7" fill="#2E3A8C"/>
<circle cx="233.4" cy="442.8" r="2.7" fill="#2E3A8C"/>
<circle cx="253.3" cy="361.7" r="2.7" fill="#17803A"/>
<circle cx="268.2" cy="369.5" r="2.7" fill="#17803A"/>
<circle cx="251.8" cy="390.5" r="2.7" fill="#17803A"/>
<circle cx="269.7" cy="397.0" r="2.7" fill="#17803A"/>
<circle cx="318.1" cy="388.2" r="2.7" fill="#17803A"/>
<circle cx="307.4" cy="411.4" r="2.7" fill="#17803A"/>
<circle cx="362.8" cy="429.2" r="2.7" fill="#17803A"/>
<circle cx="239.5" cy="463.3" r="2.7" fill="#17803A"/>
<circle cx="343.7" cy="294.6" r="2.7" fill="#E3131B"/>
<circle cx="310.5" cy="349.3" r="2.7" fill="#E3131B"/>
<circle cx="348.8" cy="364.9" r="2.7" fill="#E3131B"/>
<circle cx="379.6" cy="407.1" r="2.7" fill="#E3131B"/>
<circle cx="372.6" cy="412.8" r="2.7" fill="#E3131B"/>
<circle cx="383.3" cy="418.9" r="2.7" fill="#E3131B"/>
<circle cx="375.1" cy="420.6" r="2.7" fill="#E3131B"/>
<circle cx="378.7" cy="427.8" r="2.7" fill="#E3131B"/>
<line x1="206.90" y1="288.30" x2="211.20" y2="288.30" stroke="#555" stroke-width="0.9" />
<text x="205.20" y="291.20" font-size="8.5" text-anchor="end" fill="#333" font-weight="normal" font-family='"Liberation Sans", sans-serif'  stroke="#333" stroke-width="0.22">0.35</text>
<line x1="206.90" y1="303.40" x2="211.20" y2="303.40" stroke="#555" stroke-width="0.9" />
<text x="205.20" y="306.30" font-size="8.5" text-anchor="end" fill="#333" font-weight="normal" font-family='"Liberation Sans", sans-serif'  stroke="#333" stroke-width="0.22">0.30</text>
<line x1="206.90" y1="318.50" x2="211.20" y2="318.50" stroke="#555" stroke-width="0.9" />
<text x="205.20" y="321.40" font-size="8.5" text-anchor="end" fill="#333" font-weight="normal" font-family='"Liberation Sans", sans-serif'  stroke="#333" stroke-width="0.22">0.25</text>
<line x1="206.90" y1="333.60" x2="211.20" y2="333.60" stroke="#555" stroke-width="0.9" />
<text x="205.20" y="336.50" font-size="8.5" text-anchor="end" fill="#333" font-weight="normal" font-family='"Liberation Sans", sans-serif'  stroke="#333" stroke-width="0.22">0.20</text>
<line x1="206.90" y1="348.70" x2="211.20" y2="348.70" stroke="#555" stroke-width="0.9" />
<text x="205.20" y="351.60" font-size="8.5" text-anchor="end" fill="#333" font-weight="normal" font-family='"Liberation Sans", sans-serif'  stroke="#333" stroke-width="0.22">0.15</text>
<line x1="206.90" y1="363.80" x2="211.20" y2="363.80" stroke="#555" stroke-width="0.9" />
<text x="205.20" y="366.70" font-size="8.5" text-anchor="end" fill="#333" font-weight="normal" font-family='"Liberation Sans", sans-serif'  stroke="#333" stroke-width="0.22">0.10</text>
<line x1="206.90" y1="378.90" x2="211.20" y2="378.90" stroke="#555" stroke-width="0.9" />
<text x="205.20" y="381.80" font-size="8.5" text-anchor="end" fill="#333" font-weight="normal" font-family='"Liberation Sans", sans-serif'  stroke="#333" stroke-width="0.22">0.05</text>
<line x1="206.90" y1="394.00" x2="211.20" y2="394.00" stroke="#555" stroke-width="0.9" />
<text x="205.20" y="396.90" font-size="8.5" text-anchor="end" fill="#333" font-weight="normal" font-family='"Liberation Sans", sans-serif'  stroke="#333" stroke-width="0.22">0.00</text>
<line x1="206.90" y1="409.10" x2="211.20" y2="409.10" stroke="#555" stroke-width="0.9" />
<text x="205.20" y="412.00" font-size="8.5" text-anchor="end" fill="#333" font-weight="normal" font-family='"Liberation Sans", sans-serif'  stroke="#333" stroke-width="0.22">-0.05</text>
<line x1="206.90" y1="424.20" x2="211.20" y2="424.20" stroke="#555" stroke-width="0.9" />
<text x="205.20" y="427.10" font-size="8.5" text-anchor="end" fill="#333" font-weight="normal" font-family='"Liberation Sans", sans-serif'  stroke="#333" stroke-width="0.22">-0.10</text>
<line x1="206.90" y1="439.30" x2="211.20" y2="439.30" stroke="#555" stroke-width="0.9" />
<text x="205.20" y="442.20" font-size="8.5" text-anchor="end" fill="#333" font-weight="normal" font-family='"Liberation Sans", sans-serif'  stroke="#333" stroke-width="0.22">-0.15</text>
<line x1="206.90" y1="454.40" x2="211.20" y2="454.40" stroke="#555" stroke-width="0.9" />
<text x="205.20" y="457.30" font-size="8.5" text-anchor="end" fill="#333" font-weight="normal" font-family='"Liberation Sans", sans-serif'  stroke="#333" stroke-width="0.22">-0.20</text>
<line x1="206.90" y1="469.50" x2="211.20" y2="469.50" stroke="#555" stroke-width="0.9" />
<text x="205.20" y="472.40" font-size="8.5" text-anchor="end" fill="#333" font-weight="normal" font-family='"Liberation Sans", sans-serif'  stroke="#333" stroke-width="0.22">-0.25</text>
<line x1="218.20" y1="472.00" x2="218.20" y2="474.80" stroke="#555" stroke-width="0.9" />
<text x="218.20" y="483.80" font-size="8.5" text-anchor="middle" fill="#333" font-weight="normal" font-family='"Liberation Sans", sans-serif'  stroke="#333" stroke-width="0.22">-0.5</text>
<line x1="234.60" y1="472.00" x2="234.60" y2="474.80" stroke="#555" stroke-width="0.9" />
<text x="234.60" y="483.80" font-size="8.5" text-anchor="middle" fill="#333" font-weight="normal" font-family='"Liberation Sans", sans-serif'  stroke="#333" stroke-width="0.22">-0.4</text>
<line x1="251.00" y1="472.00" x2="251.00" y2="474.80" stroke="#555" stroke-width="0.9" />
<text x="251.00" y="483.80" font-size="8.5" text-anchor="middle" fill="#333" font-weight="normal" font-family='"Liberation Sans", sans-serif'  stroke="#333" stroke-width="0.22">-0.3</text>
<line x1="267.40" y1="472.00" x2="267.40" y2="474.80" stroke="#555" stroke-width="0.9" />
<text x="267.40" y="483.80" font-size="8.5" text-anchor="middle" fill="#333" font-weight="normal" font-family='"Liberation Sans", sans-serif'  stroke="#333" stroke-width="0.22">-0.2</text>
<line x1="283.80" y1="472.00" x2="283.80" y2="474.80" stroke="#555" stroke-width="0.9" />
<text x="283.80" y="483.80" font-size="8.5" text-anchor="middle" fill="#333" font-weight="normal" font-family='"Liberation Sans", sans-serif'  stroke="#333" stroke-width="0.22">-0.1</text>
<line x1="300.20" y1="472.00" x2="300.20" y2="474.80" stroke="#555" stroke-width="0.9" />
<text x="300.20" y="483.80" font-size="8.5" text-anchor="middle" fill="#333" font-weight="normal" font-family='"Liberation Sans", sans-serif'  stroke="#333" stroke-width="0.22">0.0</text>
<line x1="316.60" y1="472.00" x2="316.60" y2="474.80" stroke="#555" stroke-width="0.9" />
<text x="316.60" y="483.80" font-size="8.5" text-anchor="middle" fill="#333" font-weight="normal" font-family='"Liberation Sans", sans-serif'  stroke="#333" stroke-width="0.22">0.1</text>
<line x1="333.00" y1="472.00" x2="333.00" y2="474.80" stroke="#555" stroke-width="0.9" />
<text x="333.00" y="483.80" font-size="8.5" text-anchor="middle" fill="#333" font-weight="normal" font-family='"Liberation Sans", sans-serif'  stroke="#333" stroke-width="0.22">0.2</text>
<line x1="349.40" y1="472.00" x2="349.40" y2="474.80" stroke="#555" stroke-width="0.9" />
<text x="349.40" y="483.80" font-size="8.5" text-anchor="middle" fill="#333" font-weight="normal" font-family='"Liberation Sans", sans-serif'  stroke="#333" stroke-width="0.22">0.3</text>
<line x1="365.80" y1="472.00" x2="365.80" y2="474.80" stroke="#555" stroke-width="0.9" />
<text x="365.80" y="483.80" font-size="8.5" text-anchor="middle" fill="#333" font-weight="normal" font-family='"Liberation Sans", sans-serif'  stroke="#333" stroke-width="0.22">0.4</text>
<line x1="382.20" y1="472.00" x2="382.20" y2="474.80" stroke="#555" stroke-width="0.9" />
<text x="382.20" y="483.80" font-size="8.5" text-anchor="middle" fill="#333" font-weight="normal" font-family='"Liberation Sans", sans-serif'  stroke="#333" stroke-width="0.22">0.5</text>
<text x="301.40" y="504.00" font-size="8.2" text-anchor="middle" fill="#333" font-weight="normal" font-family='"Liberation Sans", sans-serif'  stroke="#333" stroke-width="0.22">PCo1 [48%]</text>
<text x="172.80" y="379.00" font-size="8.2" text-anchor="middle" fill="#333" font-weight="normal" font-family='"Liberation Sans", sans-serif' transform="rotate(-90 172.8 379)"  stroke="#333" stroke-width="0.22">PCo3 [7.1%]</text>
<text x="217.40" y="295.60" font-size="6.9" text-anchor="start" fill="#222" font-weight="normal" font-family='"Liberation Sans", sans-serif'  stroke="#222" stroke-width="0.22">ANOSIM, r =0.7841, P =0.001</text>
<text x="217.40" y="303.70" font-size="6.9" text-anchor="start" fill="#222" font-weight="normal" font-family='"Liberation Sans", sans-serif'  stroke="#222" stroke-width="0.22">NC vs LG</text>
<text x="217.40" y="311.80" font-size="6.9" text-anchor="start" fill="#222" font-weight="normal" font-family='"Liberation Sans", sans-serif'  stroke="#222" stroke-width="0.22">HD vs NC</text>
<text x="217.40" y="319.90" font-size="6.9" text-anchor="start" fill="#222" font-weight="normal" font-family='"Liberation Sans", sans-serif'  stroke="#222" stroke-width="0.22">LG vs NC</text>
<text x="256.70" y="303.70" font-size="6.9" text-anchor="start" fill="#222" font-weight="normal" font-family='"Liberation Sans", sans-serif'  stroke="#222" stroke-width="0.22">p&lt;0.01</text>
<text x="258.00" y="311.80" font-size="6.9" text-anchor="start" fill="#222" font-weight="normal" font-family='"Liberation Sans", sans-serif'  stroke="#222" stroke-width="0.22">p&lt;0.001</text>
<text x="256.70" y="319.90" font-size="6.9" text-anchor="start" fill="#222" font-weight="normal" font-family='"Liberation Sans", sans-serif'  stroke="#222" stroke-width="0.22">p&lt;0.001</text>
<circle cx="410.9" cy="290.5" r="2.9" fill="#2E3A8C"/>
<text x="418.10" y="293.50" font-size="8.4" text-anchor="start" fill="#555" font-weight="normal" font-family='"Liberation Sans", sans-serif'  stroke="#555" stroke-width="0.22">NC</text>
<circle cx="410.9" cy="299.5" r="2.9" fill="#E3131B"/>
<text x="418.10" y="302.50" font-size="8.4" text-anchor="start" fill="#555" font-weight="normal" font-family='"Liberation Sans", sans-serif'  stroke="#555" stroke-width="0.22">HD</text>
<circle cx="410.9" cy="308.5" r="2.9" fill="#17803A"/>
<text x="418.10" y="311.50" font-size="8.4" text-anchor="start" fill="#555" font-weight="normal" font-family='"Liberation Sans", sans-serif'  stroke="#555" stroke-width="0.22">LG</text>
<text x="448.50" y="263.60" font-size="12" text-anchor="start" fill="#111" font-weight="bold" font-family='"Liberation Serif", serif' >f</text>
<defs><linearGradient id="fgrad" x1="0" x2="1" y1="0" y2="0"><stop offset="0" stop-color="#EE2A3E"/><stop offset="0.5" stop-color="#FFFFFF"/><stop offset="1" stop-color="#2F72B2"/></linearGradient></defs>
<rect x="469.50" y="288.90" width="81.00" height="5.80" fill="url(#fgrad)" />
<text x="474.80" y="284.60" font-size="9.4" text-anchor="middle" fill="#222" font-weight="normal" font-family='"Liberation Sans", sans-serif'  stroke="#222" stroke-width="0.22">1.41</text>
<text x="507.90" y="284.60" font-size="9.4" text-anchor="middle" fill="#222" font-weight="normal" font-family='"Liberation Sans", sans-serif'  stroke="#222" stroke-width="0.22">0.00</text>
<text x="545.20" y="284.60" font-size="9.4" text-anchor="middle" fill="#222" font-weight="normal" font-family='"Liberation Sans", sans-serif'  stroke="#222" stroke-width="0.22">-1.41</text>
<text x="550.40" y="310.90" font-size="9.6" text-anchor="end" fill="#222" font-weight="normal" font-family='"Liberation Sans", sans-serif'  stroke="#222" stroke-width="0.22">[Paraprevotellaceae]</text>
<rect x="554.00" y="303.49" width="8.30" height="8.02" fill="#ee3447" />
<rect x="562.90" y="303.49" width="8.30" height="8.02" fill="#99bbdf" />
<rect x="571.80" y="303.49" width="8.30" height="8.02" fill="#78a5d5" />
<rect x="589.90" y="304.15" width="61.80" height="6.70" fill="#A8A8B6" />
<text x="550.40" y="319.82" font-size="9.6" text-anchor="end" fill="#222" font-weight="normal" font-family='"Liberation Sans", sans-serif'  stroke="#222" stroke-width="0.22">S24-7</text>
<rect x="554.00" y="312.41" width="8.30" height="8.02" fill="#f79fa8" />
<rect x="562.90" y="312.41" width="8.30" height="8.02" fill="#2970bc" />
<rect x="571.80" y="312.41" width="8.30" height="8.02" fill="#f6949e" />
<rect x="589.90" y="313.07" width="48.10" height="6.70" fill="#A8A8B6" />
<text x="550.40" y="328.74" font-size="9.6" text-anchor="end" fill="#222" font-weight="normal" font-family='"Liberation Sans", sans-serif'  stroke="#222" stroke-width="0.22">[Odoribacteraceae]</text>
<rect x="554.00" y="321.33" width="8.30" height="8.02" fill="#ee3447" />
<rect x="562.90" y="321.33" width="8.30" height="8.02" fill="#e4edf6" />
<rect x="571.80" y="321.33" width="8.30" height="8.02" fill="#3f7fc3" />
<rect x="589.90" y="321.99" width="42.40" height="6.70" fill="#A8A8B6" />
<text x="550.40" y="337.66" font-size="9.6" text-anchor="end" fill="#222" font-weight="normal" font-family='"Liberation Sans", sans-serif'  stroke="#222" stroke-width="0.22">Prevotellaceae</text>
<rect x="554.00" y="330.25" width="8.30" height="8.02" fill="#ee3447" />
<rect x="562.90" y="330.25" width="8.30" height="8.02" fill="#99bbdf" />
<rect x="571.80" y="330.25" width="8.30" height="8.02" fill="#78a5d5" />
<rect x="589.90" y="330.91" width="36.50" height="6.70" fill="#A8A8B6" />
<text x="550.40" y="346.58" font-size="9.6" text-anchor="end" fill="#222" font-weight="normal" font-family='"Liberation Sans", sans-serif'  stroke="#222" stroke-width="0.22">Ruminococcaceae</text>
<rect x="554.00" y="339.17" width="8.30" height="8.02" fill="#4b87c7" />
<rect x="562.90" y="339.17" width="8.30" height="8.02" fill="#ee3447" />
<rect x="571.80" y="339.17" width="8.30" height="8.02" fill="#dde8f4" />
<rect x="589.90" y="339.83" width="35.30" height="6.70" fill="#A8A8B6" />
<text x="550.40" y="355.50" font-size="9.6" text-anchor="end" fill="#222" font-weight="normal" font-family='"Liberation Sans", sans-serif'  stroke="#222" stroke-width="0.22">Desulfovibrionaceae</text>
<rect x="554.00" y="348.09" width="8.30" height="8.02" fill="#4b87c7" />
<rect x="562.90" y="348.09" width="8.30" height="8.02" fill="#ee3447" />
<rect x="571.80" y="348.09" width="8.30" height="8.02" fill="#dde8f4" />
<rect x="589.90" y="348.75" width="34.90" height="6.70" fill="#A8A8B6" />
<text x="550.40" y="364.42" font-size="9.6" text-anchor="end" fill="#222" font-weight="normal" font-family='"Liberation Sans", sans-serif'  stroke="#222" stroke-width="0.22">Alcaligenaceae</text>
<rect x="554.00" y="357.01" width="8.30" height="8.02" fill="#ee3447" />
<rect x="562.90" y="357.01" width="8.30" height="8.02" fill="#8eb4dc" />
<rect x="571.80" y="357.01" width="8.30" height="8.02" fill="#8eb4dc" />
<rect x="589.90" y="357.67" width="34.90" height="6.70" fill="#A8A8B6" />
<text x="550.40" y="373.34" font-size="9.6" text-anchor="end" fill="#222" font-weight="normal" font-family='"Liberation Sans", sans-serif'  stroke="#222" stroke-width="0.22">Porphyromonadaceae</text>
<rect x="554.00" y="365.93" width="8.30" height="8.02" fill="#99bbdf" />
<rect x="562.90" y="365.93" width="8.30" height="8.02" fill="#78a5d5" />
<rect x="571.80" y="365.93" width="8.30" height="8.02" fill="#ee3447" />
<rect x="589.90" y="366.59" width="31.30" height="6.70" fill="#A8A8B6" />
<text x="550.40" y="382.26" font-size="9.6" text-anchor="end" fill="#222" font-weight="normal" font-family='"Liberation Sans", sans-serif'  stroke="#222" stroke-width="0.22">Turicibacteraceae</text>
<rect x="554.00" y="374.85" width="8.30" height="8.02" fill="#ee3447" />
<rect x="562.90" y="374.85" width="8.30" height="8.02" fill="#8eb4dc" />
<rect x="571.80" y="374.85" width="8.30" height="8.02" fill="#8eb4dc" />
<rect x="589.90" y="375.51" width="28.40" height="6.70" fill="#A8A8B6" />
<text x="550.40" y="391.18" font-size="9.6" text-anchor="end" fill="#222" font-weight="normal" font-family='"Liberation Sans", sans-serif'  stroke="#222" stroke-width="0.22">Peptococcaceae</text>
<rect x="554.00" y="383.77" width="8.30" height="8.02" fill="#b0cae6" />
<rect x="562.90" y="383.77" width="8.30" height="8.02" fill="#ee3447" />
<rect x="571.80" y="383.77" width="8.30" height="8.02" fill="#6196ce" />
<rect x="589.90" y="384.43" width="27.20" height="6.70" fill="#A8A8B6" />
<text x="550.40" y="400.10" font-size="9.6" text-anchor="end" fill="#222" font-weight="normal" font-family='"Liberation Sans", sans-serif'  stroke="#222" stroke-width="0.22">Christensenellaceae</text>
<rect x="554.00" y="392.69" width="8.30" height="8.02" fill="#3f7fc3" />
<rect x="562.90" y="392.69" width="8.30" height="8.02" fill="#ee3447" />
<rect x="571.80" y="392.69" width="8.30" height="8.02" fill="#e8f0f8" />
<rect x="589.90" y="393.35" width="21.20" height="6.70" fill="#A8A8B6" />
<text x="550.40" y="409.02" font-size="9.6" text-anchor="end" fill="#222" font-weight="normal" font-family='"Liberation Sans", sans-serif'  stroke="#222" stroke-width="0.22">Bifidobacteriaceae</text>
<rect x="554.00" y="401.61" width="8.30" height="8.02" fill="#ee3447" />
<rect x="562.90" y="401.61" width="8.30" height="8.02" fill="#83acd8" />
<rect x="571.80" y="401.61" width="8.30" height="8.02" fill="#a5c3e3" />
<rect x="589.90" y="402.27" width="17.90" height="6.70" fill="#A8A8B6" />
<text x="550.40" y="417.94" font-size="9.6" text-anchor="end" fill="#222" font-weight="normal" font-family='"Liberation Sans", sans-serif'  stroke="#222" stroke-width="0.22">Lactobacillaceae</text>
<rect x="554.00" y="410.53" width="8.30" height="8.02" fill="#ee3447" />
<rect x="562.90" y="410.53" width="8.30" height="8.02" fill="#6196ce" />
<rect x="571.80" y="410.53" width="8.30" height="8.02" fill="#b0cae6" />
<rect x="589.90" y="411.19" width="16.70" height="6.70" fill="#A8A8B6" />
<text x="550.40" y="426.86" font-size="9.6" text-anchor="end" fill="#222" font-weight="normal" font-family='"Liberation Sans", sans-serif'  stroke="#222" stroke-width="0.22">F16</text>
<rect x="554.00" y="419.45" width="8.30" height="8.02" fill="#ee3447" />
<rect x="562.90" y="419.45" width="8.30" height="8.02" fill="#a5c3e3" />
<rect x="571.80" y="419.45" width="8.30" height="8.02" fill="#6c9dd1" />
<rect x="589.90" y="420.11" width="16.10" height="6.70" fill="#A8A8B6" />
<text x="550.40" y="435.78" font-size="9.6" text-anchor="end" fill="#222" font-weight="normal" font-family='"Liberation Sans", sans-serif'  stroke="#222" stroke-width="0.22">Coriobacteriaceae</text>
<rect x="554.00" y="428.37" width="8.30" height="8.02" fill="#a5c3e3" />
<rect x="562.90" y="428.37" width="8.30" height="8.02" fill="#6c9dd1" />
<rect x="571.80" y="428.37" width="8.30" height="8.02" fill="#ee3447" />
<rect x="589.90" y="429.03" width="15.10" height="6.70" fill="#A8A8B6" />
<text x="550.40" y="444.70" font-size="9.6" text-anchor="end" fill="#222" font-weight="normal" font-family='"Liberation Sans", sans-serif'  stroke="#222" stroke-width="0.22">Dehalobacteriaceae</text>
<rect x="554.00" y="437.29" width="8.30" height="8.02" fill="#a5c3e3" />
<rect x="562.90" y="437.29" width="8.30" height="8.02" fill="#ee3447" />
<rect x="571.80" y="437.29" width="8.30" height="8.02" fill="#6c9dd1" />
<rect x="589.90" y="437.95" width="14.10" height="6.70" fill="#A8A8B6" />
<text x="550.40" y="453.62" font-size="9.6" text-anchor="end" fill="#222" font-weight="normal" font-family='"Liberation Sans", sans-serif'  stroke="#222" stroke-width="0.22">Deferribacteraceae</text>
<rect x="554.00" y="446.21" width="8.30" height="8.02" fill="#83acd8" />
<rect x="562.90" y="446.21" width="8.30" height="8.02" fill="#ee3447" />
<rect x="571.80" y="446.21" width="8.30" height="8.02" fill="#99bbdf" />
<rect x="589.90" y="446.87" width="13.90" height="6.70" fill="#A8A8B6" />
<text x="550.40" y="462.54" font-size="9.6" text-anchor="end" fill="#222" font-weight="normal" font-family='"Liberation Sans", sans-serif'  stroke="#222" stroke-width="0.22">[Mogibacteriaceae]</text>
<rect x="554.00" y="455.13" width="8.30" height="8.02" fill="#bbd2ea" />
<rect x="562.90" y="455.13" width="8.30" height="8.02" fill="#6196ce" />
<rect x="571.80" y="455.13" width="8.30" height="8.02" fill="#ee3447" />
<rect x="589.90" y="455.79" width="12.30" height="6.70" fill="#A8A8B6" />
<text x="550.40" y="471.46" font-size="9.6" text-anchor="end" fill="#222" font-weight="normal" font-family='"Liberation Sans", sans-serif'  stroke="#222" stroke-width="0.22">Bacteroidaceae</text>
<rect x="554.00" y="464.05" width="8.30" height="8.02" fill="#2970bc" />
<rect x="562.90" y="464.05" width="8.30" height="8.02" fill="#f37481" />
<rect x="571.80" y="464.05" width="8.30" height="8.02" fill="#f6949e" />
<rect x="589.90" y="464.71" width="12.10" height="6.70" fill="#A8A8B6" />
<text x="550.40" y="480.38" font-size="9.6" text-anchor="end" fill="#222" font-weight="normal" font-family='"Liberation Sans", sans-serif'  stroke="#222" stroke-width="0.22">Lachnospiraceae</text>
<rect x="554.00" y="472.97" width="8.30" height="8.02" fill="#ee3447" />
<rect x="562.90" y="472.97" width="8.30" height="8.02" fill="#b0cae6" />
<rect x="571.80" y="472.97" width="8.30" height="8.02" fill="#6196ce" />
<rect x="589.90" y="473.63" width="11.90" height="6.70" fill="#A8A8B6" />
<rect x="588.30" y="301.00" width="66.40" height="183.00" fill="none" stroke="#444" stroke-width="1"/>
<text x="587.20" y="291.60" font-size="12.6" text-anchor="start" fill="#222" font-weight="normal" font-family='"Liberation Sans", sans-serif' textLength="68" lengthAdjust="spacingAndGlyphs" stroke="#222" stroke-width="0.22">Importance</text>
<text x="561.40" y="499.00" font-size="9.0" text-anchor="start" fill="#222" font-weight="bold" font-family='"Liberation Sans", sans-serif' transform="rotate(-90 561.4 499.0)" >NC</text>
<text x="570.30" y="499.00" font-size="9.0" text-anchor="start" fill="#222" font-weight="bold" font-family='"Liberation Sans", sans-serif' transform="rotate(-90 570.3 499.0)" >HD</text>
<text x="579.20" y="499.00" font-size="9.0" text-anchor="start" fill="#222" font-weight="bold" font-family='"Liberation Sans", sans-serif' transform="rotate(-90 579.1999999999999 499.0)" >LG</text>
<text x="588.00" y="497.80" font-size="9.4" text-anchor="middle" fill="#222" font-weight="normal" font-family='"Liberation Sans", sans-serif'  stroke="#222" stroke-width="0.22">0</text>
<text x="619.40" y="497.80" font-size="9.4" text-anchor="middle" fill="#222" font-weight="normal" font-family='"Liberation Sans", sans-serif'  stroke="#222" stroke-width="0.22">0.054</text>
<text x="650.10" y="497.80" font-size="9.4" text-anchor="middle" fill="#222" font-weight="normal" font-family='"Liberation Sans", sans-serif'  stroke="#222" stroke-width="0.22">0.107</text>
<text x="8.50" y="581.00" font-size="12" text-anchor="start" fill="#111" font-weight="bold" font-family='"Liberation Serif", serif' >g</text>
<g fill="none" stroke-width="0.8">
<path d="M158.30,595.80 Q160.63,615.42 166.80,634.20" stroke="#E5574F"/>
<path d="M253.30,589.80 Q274.80,610.90 296.30,632.00" stroke="#E5574F"/>
<path d="M296.30,632.00 Q271.70,659.45 247.10,686.90" stroke="#E5574F"/>
<path d="M166.80,634.20 Q153.11,648.53 143.20,665.70" stroke="#6CC46A"/>
<path d="M166.80,634.20 Q156.26,650.89 143.20,665.70" stroke="#6CC46A"/>
<path d="M192.20,627.30 Q177.30,658.75 143.20,665.70" stroke="#E5574F"/>
<path d="M166.80,634.20 Q184.70,657.75 206.90,677.30" stroke="#E5574F"/>
<path d="M166.80,634.20 Q188.14,654.55 206.90,677.30" stroke="#E5574F"/>
<path d="M166.80,634.20 Q191.97,681.46 226.00,722.80" stroke="#6CC46A"/>
<path d="M166.80,634.20 Q198.17,677.32 226.00,722.80" stroke="#6CC46A"/>
<path d="M166.80,634.20 Q204.84,663.76 247.10,686.90" stroke="#E5574F"/>
<path d="M166.80,634.20 Q142.20,673.24 131.00,718.00" stroke="#6CC46A"/>
<path d="M192.20,627.30 Q197.05,653.03 206.90,677.30" stroke="#6CC46A"/>
<path d="M192.20,627.30 Q181.11,657.40 176.20,689.10" stroke="#E5574F"/>
<path d="M192.20,627.30 Q201.46,677.75 226.00,722.80" stroke="#6CC46A"/>
<path d="M192.20,627.30 Q211.01,674.37 226.00,722.80" stroke="#6CC46A"/>
<path d="M192.20,627.30 Q224.42,652.71 247.10,686.90" stroke="#E5574F"/>
<path d="M143.20,665.70 Q174.70,673.41 206.90,677.30" stroke="#6CC46A"/>
<path d="M143.20,665.70 Q175.40,669.59 206.90,677.30" stroke="#E5574F"/>
<path d="M143.20,665.70 Q194.30,680.46 247.10,686.90" stroke="#6CC46A"/>
<path d="M143.20,665.70 Q195.57,674.22 247.10,686.90" stroke="#E5574F"/>
<path d="M143.20,665.70 Q158.53,679.05 176.20,689.10" stroke="#E5574F"/>
<path d="M143.20,665.70 Q119.94,664.99 97.00,668.90" stroke="#E5574F"/>
<path d="M143.20,665.70 Q134.48,691.24 131.00,718.00" stroke="#E5574F"/>
<path d="M143.20,665.70 Q141.28,692.83 131.00,718.00" stroke="#6CC46A"/>
<path d="M143.20,665.70 Q181.75,698.39 226.00,722.80" stroke="#6CC46A"/>
<path d="M176.20,689.10 Q155.04,705.81 131.00,718.00" stroke="#E5574F"/>
<path d="M176.20,689.10 Q199.08,708.94 226.00,722.80" stroke="#6CC46A"/>
<path d="M176.20,689.10 Q201.77,704.95 226.00,722.80" stroke="#6CC46A"/>
<path d="M206.90,677.30 Q214.17,701.00 226.00,722.80" stroke="#E5574F"/>
<path d="M206.90,677.30 Q218.72,699.09 226.00,722.80" stroke="#6CC46A"/>
<path d="M206.90,677.30 Q226.62,683.71 247.10,686.90" stroke="#6CC46A"/>
<path d="M206.90,677.30 Q227.19,681.30 247.10,686.90" stroke="#6CC46A"/>
<path d="M206.90,677.30 Q191.55,683.20 176.20,689.10" stroke="#E5574F"/>
<path d="M247.10,686.90 Q233.68,703.16 226.00,722.80" stroke="#E5574F"/>
<path d="M247.10,686.90 Q238.34,705.90 226.00,722.80" stroke="#E5574F"/>
<path d="M247.10,686.90 Q255.20,714.82 257.60,743.80" stroke="#E5574F"/>
<path d="M280.50,693.60 Q251.79,705.48 226.00,722.80" stroke="#6CC46A"/>
<path d="M247.10,686.90 Q263.80,690.25 280.50,693.60" stroke="#E5574F"/>
<path d="M280.50,693.60 Q264.03,716.41 257.60,743.80" stroke="#6CC46A"/>
<path d="M174.00,725.50 Q200.08,725.71 226.00,722.80" stroke="#E5574F"/>
<path d="M174.00,725.50 Q185.56,741.65 200.10,755.20" stroke="#E5574F"/>
<path d="M174.00,725.50 Q188.54,739.05 200.10,755.20" stroke="#E5574F"/>
<path d="M174.00,725.50 Q197.14,763.87 224.70,799.20" stroke="#E5574F"/>
<path d="M226.00,722.80 Q211.43,737.71 200.10,755.20" stroke="#E5574F"/>
<path d="M226.00,722.80 Q214.67,740.29 200.10,755.20" stroke="#E5574F"/>
<path d="M226.00,722.80 Q240.75,734.88 257.60,743.80" stroke="#E5574F"/>
<path d="M226.00,722.80 Q242.43,732.35 257.60,743.80" stroke="#6CC46A"/>
<path d="M226.00,722.80 Q238.83,757.06 268.40,778.60" stroke="#E5574F"/>
<path d="M226.00,722.80 Q231.46,761.10 224.70,799.20" stroke="#E5574F"/>
<path d="M257.60,743.80 Q291.53,743.15 325.30,739.80" stroke="#E5574F"/>
<path d="M257.60,743.80 Q282.99,769.67 313.00,790.00" stroke="#E5574F"/>
<path d="M257.60,743.80 Q235.61,768.21 224.70,799.20" stroke="#E5574F"/>
<path d="M200.10,755.20 Q228.28,746.62 257.60,743.80" stroke="#E5574F"/>
<path d="M200.10,755.20 Q233.08,770.32 268.40,778.60" stroke="#E5574F"/>
<path d="M200.10,755.20 Q210.20,778.43 224.70,799.20" stroke="#E5574F"/>
<path d="M200.10,755.20 Q214.16,776.22 224.70,799.20" stroke="#E5574F"/>
<path d="M200.10,755.20 Q212.40,777.20 224.70,799.20" stroke="#E5574F"/>
<path d="M268.40,778.60 Q244.49,784.53 224.70,799.20" stroke="#E5574F"/>
<path d="M325.30,739.80 Q319.15,764.90 313.00,790.00" stroke="#E5574F"/>
<path d="M200.10,755.20 Q182.80,792.20 165.50,829.20" stroke="#6CC46A"/>
<path d="M117.30,794.90 Q141.40,812.05 165.50,829.20" stroke="#6CC46A"/>
<path d="M117.30,794.90 Q108.44,756.75 92.20,721.10" stroke="#E5574F"/>
<path d="M117.30,794.90 Q101.06,759.25 92.20,721.10" stroke="#E5574F"/>
<path d="M117.30,794.90 Q135.24,751.70 174.00,725.50" stroke="#E5574F"/>
<path d="M37.70,742.20 Q50.45,761.15 66.70,777.20" stroke="#E5574F"/>
<path d="M37.70,742.20 Q76.45,770.14 117.30,794.90" stroke="#6CC46A"/>
<path d="M66.70,777.20 Q41.50,797.25 16.30,817.30" stroke="#E5574F"/>
<path d="M38.20,688.40 Q50.67,733.37 66.70,777.20" stroke="#6CC46A"/>
<path d="M66.70,777.20 Q74.96,747.11 92.20,721.10" stroke="#E5574F"/>
<path d="M66.70,777.20 Q101.81,750.82 131.00,718.00" stroke="#6CC46A"/>
<path d="M38.20,688.40 Q73.45,696.29 97.00,668.90" stroke="#E5574F"/>
<path d="M38.20,688.40 Q83.12,707.84 131.00,718.00" stroke="#6CC46A"/>
<path d="M97.00,668.90 Q63.68,702.58 37.70,742.20" stroke="#6CC46A"/>
<path d="M97.00,668.90 Q76.15,712.67 37.70,742.20" stroke="#E5574F"/>
<path d="M97.00,668.90 Q93.56,694.90 92.20,721.10" stroke="#E5574F"/>
<path d="M92.20,721.10 Q132.97,725.75 174.00,725.50" stroke="#6CC46A"/>
</g>
<rect x="150.30" y="587.80" width="16.00" height="16.00" fill="#141414" />
<path d="M158.30,595.80 L158.30,588.00 A7.8,7.8 0 0 1 165.72,593.39 Z" fill="#5EC1B5"/>
<path d="M158.30,595.80 L165.72,593.39 A7.8,7.8 0 0 1 166.04,596.78 Z" fill="#D8125F"/>
<path d="M158.30,595.80 L166.04,596.78 A7.8,7.8 0 1 1 158.30,588.00 Z" fill="#F3B94A"/>
<rect x="245.30" y="581.80" width="16.00" height="16.00" fill="#141414" />
<path d="M253.30,589.80 L253.30,582.00 A7.8,7.8 0 1 1 246.46,593.56 Z" fill="#5EC1B5"/>
<path d="M253.30,589.80 L246.46,593.56 A7.8,7.8 0 0 1 246.24,586.48 Z" fill="#D8125F"/>
<path d="M253.30,589.80 L246.24,586.48 A7.8,7.8 0 0 1 253.30,582.00 Z" fill="#F3B94A"/>
<rect x="184.20" y="619.30" width="16.00" height="16.00" fill="#141414" />
<path d="M192.20,627.30 L192.20,619.50 A7.8,7.8 0 0 1 197.89,632.64 Z" fill="#5EC1B5"/>
<path d="M192.20,627.30 L197.89,632.64 A7.8,7.8 0 0 1 185.14,623.98 Z" fill="#D8125F"/>
<path d="M192.20,627.30 L185.14,623.98 A7.8,7.8 0 0 1 192.20,619.50 Z" fill="#F3B94A"/>
<rect x="158.80" y="626.20" width="16.00" height="16.00" fill="#141414" />
<path d="M166.80,634.20 L166.80,626.40 A7.8,7.8 0 0 1 172.14,628.51 Z" fill="#5EC1B5"/>
<path d="M166.80,634.20 L172.14,628.51 A7.8,7.8 0 0 1 173.86,630.88 Z" fill="#D8125F"/>
<path d="M166.80,634.20 L173.86,630.88 A7.8,7.8 0 1 1 166.80,626.40 Z" fill="#F3B94A"/>
<rect x="288.30" y="624.00" width="16.00" height="16.00" fill="#141414" />
<path d="M296.30,632.00 L296.30,624.20 A7.8,7.8 0 1 1 288.50,632.00 Z" fill="#5EC1B5"/>
<path d="M296.30,632.00 L288.50,632.00 A7.8,7.8 0 0 1 288.88,629.59 Z" fill="#D8125F"/>
<path d="M296.30,632.00 L288.88,629.59 A7.8,7.8 0 0 1 296.30,624.20 Z" fill="#F3B94A"/>
<rect x="135.20" y="657.70" width="16.00" height="16.00" fill="#141414" />
<path d="M143.20,665.70 L143.20,657.90 A7.8,7.8 0 0 1 149.51,670.28 Z" fill="#5EC1B5"/>
<path d="M143.20,665.70 L149.51,670.28 A7.8,7.8 0 1 1 138.62,659.39 Z" fill="#D8125F"/>
<path d="M143.20,665.70 L138.62,659.39 A7.8,7.8 0 0 1 143.20,657.90 Z" fill="#F3B94A"/>
<rect x="89.00" y="660.90" width="16.00" height="16.00" fill="#141414" />
<path d="M97.00,668.90 L97.00,661.10 A7.8,7.8 0 0 1 104.80,668.90 Z" fill="#5EC1B5"/>
<path d="M97.00,668.90 L104.80,668.90 A7.8,7.8 0 0 1 89.20,668.90 Z" fill="#D8125F"/>
<path d="M97.00,668.90 L89.20,668.90 A7.8,7.8 0 0 1 97.00,661.10 Z" fill="#F3B94A"/>
<rect x="198.90" y="669.30" width="16.00" height="16.00" fill="#141414" />
<path d="M206.90,677.30 L206.90,669.50 A7.8,7.8 0 0 1 212.59,682.64 Z" fill="#5EC1B5"/>
<path d="M206.90,677.30 L212.59,682.64 A7.8,7.8 0 1 1 206.90,669.50 Z" fill="#D8125F"/>
<rect x="30.20" y="680.40" width="16.00" height="16.00" fill="#141414" />
<path d="M38.20,688.40 L38.20,680.60 A7.8,7.8 0 1 1 31.89,683.82 Z" fill="#D8125F"/>
<path d="M38.20,688.40 L31.89,683.82 A7.8,7.8 0 0 1 38.20,680.60 Z" fill="#F3B94A"/>
<rect x="168.20" y="681.10" width="16.00" height="16.00" fill="#141414" />
<path d="M176.20,689.10 L176.20,681.30 A7.8,7.8 0 0 1 183.86,690.56 Z" fill="#5EC1B5"/>
<path d="M176.20,689.10 L183.86,690.56 A7.8,7.8 0 1 1 170.86,683.41 Z" fill="#D8125F"/>
<path d="M176.20,689.10 L170.86,683.41 A7.8,7.8 0 0 1 176.20,681.30 Z" fill="#F3B94A"/>
<rect x="239.10" y="678.90" width="16.00" height="16.00" fill="#141414" />
<path d="M247.10,686.90 L247.10,679.10 A7.8,7.8 0 0 1 251.68,680.59 Z" fill="#5EC1B5"/>
<path d="M247.10,686.90 L251.68,680.59 A7.8,7.8 0 1 1 247.10,679.10 Z" fill="#F3B94A"/>
<rect x="272.50" y="685.60" width="16.00" height="16.00" fill="#141414" />
<path d="M280.50,693.60 L280.50,685.80 A7.8,7.8 0 0 1 286.81,698.18 Z" fill="#5EC1B5"/>
<path d="M280.50,693.60 L286.81,698.18 A7.8,7.8 0 0 1 274.19,689.02 Z" fill="#D8125F"/>
<path d="M280.50,693.60 L274.19,689.02 A7.8,7.8 0 0 1 280.50,685.80 Z" fill="#F3B94A"/>
<rect x="123.00" y="710.00" width="16.00" height="16.00" fill="#141414" />
<path d="M131.00,718.00 L131.00,710.20 A7.8,7.8 0 0 1 138.80,718.00 Z" fill="#5EC1B5"/>
<path d="M131.00,718.00 L138.80,718.00 A7.8,7.8 0 1 1 131.00,710.20 Z" fill="#D8125F"/>
<rect x="84.20" y="713.10" width="16.00" height="16.00" fill="#141414" />
<path d="M92.20,721.10 L92.20,713.30 A7.8,7.8 0 1 1 84.78,718.69 Z" fill="#5EC1B5"/>
<path d="M92.20,721.10 L84.78,718.69 A7.8,7.8 0 0 1 92.20,713.30 Z" fill="#F3B94A"/>
<rect x="166.00" y="717.50" width="16.00" height="16.00" fill="#141414" />
<path d="M174.00,725.50 L174.00,717.70 A7.8,7.8 0 0 1 181.66,724.04 Z" fill="#D8125F"/>
<path d="M174.00,725.50 L181.66,724.04 A7.8,7.8 0 1 1 174.00,717.70 Z" fill="#F3B94A"/>
<rect x="218.00" y="714.80" width="16.00" height="16.00" fill="#141414" />
<circle cx="226.00" cy="722.80" r="7.8" fill="#F3B94A"/>
<rect x="29.70" y="734.20" width="16.00" height="16.00" fill="#141414" />
<path d="M37.70,742.20 L37.70,734.40 A7.8,7.8 0 1 1 32.36,747.89 Z" fill="#5EC1B5"/>
<path d="M37.70,742.20 L32.36,747.89 A7.8,7.8 0 0 1 29.92,742.69 Z" fill="#D8125F"/>
<path d="M37.70,742.20 L29.92,742.69 A7.8,7.8 0 0 1 37.70,734.40 Z" fill="#F3B94A"/>
<rect x="249.60" y="735.80" width="16.00" height="16.00" fill="#141414" />
<path d="M257.60,743.80 L257.60,736.00 A7.8,7.8 0 0 1 259.06,736.14 Z" fill="#5EC1B5"/>
<path d="M257.60,743.80 L259.06,736.14 A7.8,7.8 0 1 1 257.60,736.00 Z" fill="#F3B94A"/>
<rect x="317.30" y="731.80" width="16.00" height="16.00" fill="#141414" />
<path d="M325.30,739.80 L325.30,732.00 A7.8,7.8 0 0 1 330.64,734.11 Z" fill="#5EC1B5"/>
<path d="M325.30,739.80 L330.64,734.11 A7.8,7.8 0 0 1 332.96,738.34 Z" fill="#D8125F"/>
<path d="M325.30,739.80 L332.96,738.34 A7.8,7.8 0 1 1 325.30,732.00 Z" fill="#F3B94A"/>
<rect x="192.10" y="747.20" width="16.00" height="16.00" fill="#141414" />
<path d="M200.10,755.20 L200.10,747.40 A7.8,7.8 0 0 1 202.04,747.65 Z" fill="#D8125F"/>
<path d="M200.10,755.20 L202.04,747.65 A7.8,7.8 0 1 1 200.10,747.40 Z" fill="#F3B94A"/>
<rect x="58.70" y="769.20" width="16.00" height="16.00" fill="#141414" />
<path d="M66.70,777.20 L66.70,769.40 A7.8,7.8 0 0 1 66.70,785.00 Z" fill="#5EC1B5"/>
<path d="M66.70,777.20 L66.70,785.00 A7.8,7.8 0 0 1 59.28,779.61 Z" fill="#D8125F"/>
<path d="M66.70,777.20 L59.28,779.61 A7.8,7.8 0 0 1 66.70,769.40 Z" fill="#F3B94A"/>
<rect x="260.40" y="770.60" width="16.00" height="16.00" fill="#141414" />
<path d="M268.40,778.60 L268.40,770.80 A7.8,7.8 0 0 1 275.82,781.01 Z" fill="#5EC1B5"/>
<path d="M268.40,778.60 L275.82,781.01 A7.8,7.8 0 0 1 268.40,786.40 Z" fill="#D8125F"/>
<path d="M268.40,778.60 L268.40,786.40 A7.8,7.8 0 0 1 268.40,770.80 Z" fill="#F3B94A"/>
<rect x="305.00" y="782.00" width="16.00" height="16.00" fill="#141414" />
<circle cx="313.00" cy="790.00" r="7.8" fill="#F3B94A"/>
<rect x="109.30" y="786.90" width="16.00" height="16.00" fill="#141414" />
<path d="M117.30,794.90 L117.30,787.10 A7.8,7.8 0 0 1 125.10,794.90 Z" fill="#5EC1B5"/>
<path d="M117.30,794.90 L125.10,794.90 A7.8,7.8 0 0 1 110.46,798.66 Z" fill="#D8125F"/>
<path d="M117.30,794.90 L110.46,798.66 A7.8,7.8 0 0 1 117.30,787.10 Z" fill="#F3B94A"/>
<rect x="216.70" y="791.20" width="16.00" height="16.00" fill="#141414" />
<path d="M224.70,799.20 L224.70,791.40 A7.8,7.8 0 0 1 227.57,791.95 Z" fill="#D8125F"/>
<path d="M224.70,799.20 L227.57,791.95 A7.8,7.8 0 1 1 224.70,791.40 Z" fill="#F3B94A"/>
<rect x="8.30" y="809.30" width="16.00" height="16.00" fill="#141414" />
<path d="M16.30,817.30 L16.30,809.50 A7.8,7.8 0 0 1 24.10,817.30 Z" fill="#5EC1B5"/>
<path d="M16.30,817.30 L24.10,817.30 A7.8,7.8 0 0 1 11.72,823.61 Z" fill="#D8125F"/>
<path d="M16.30,817.30 L11.72,823.61 A7.8,7.8 0 0 1 16.30,809.50 Z" fill="#F3B94A"/>
<rect x="157.50" y="821.20" width="16.00" height="16.00" fill="#141414" />
<path d="M165.50,829.20 L165.50,821.40 A7.8,7.8 0 0 1 170.08,835.51 Z" fill="#5EC1B5"/>
<path d="M165.50,829.20 L170.08,835.51 A7.8,7.8 0 1 1 165.50,821.40 Z" fill="#D8125F"/>
<text x="155.60" y="596.90" font-size="6.4" text-anchor="middle" fill="#2a2a2a" font-weight="normal" font-family='"Liberation Sans", sans-serif' stroke="#2a2a2a" stroke-width="0.18">unclassified_Firmicutes</text>
<text x="253.20" y="592.80" font-size="6.4" text-anchor="middle" fill="#2a2a2a" font-weight="normal" font-family='"Liberation Sans", sans-serif' stroke="#2a2a2a" stroke-width="0.18">Erysipelotrichaceae</text>
<text x="193.90" y="626.70" font-size="6.4" text-anchor="middle" fill="#2a2a2a" font-weight="normal" font-family='"Liberation Sans", sans-serif' stroke="#2a2a2a" stroke-width="0.18">unidentified_Clostridiales</text>
<text x="159.70" y="637.20" font-size="6.4" text-anchor="middle" fill="#2a2a2a" font-weight="normal" font-family='"Liberation Sans", sans-serif' stroke="#2a2a2a" stroke-width="0.18">Lactobacillaceae</text>
<text x="296.00" y="634.60" font-size="6.4" text-anchor="middle" fill="#2a2a2a" font-weight="normal" font-family='"Liberation Sans", sans-serif' stroke="#2a2a2a" stroke-width="0.18">Coriobacteriaceae</text>
<text x="141.30" y="663.20" font-size="6.4" text-anchor="middle" fill="#2a2a2a" font-weight="normal" font-family='"Liberation Sans", sans-serif' stroke="#2a2a2a" stroke-width="0.18">Ruminococcaceae</text>
<text x="97.10" y="671.50" font-size="6.4" text-anchor="middle" fill="#2a2a2a" font-weight="normal" font-family='"Liberation Sans", sans-serif' stroke="#2a2a2a" stroke-width="0.18">Dehalobacteriaceae</text>
<text x="207.40" y="680.10" font-size="6.4" text-anchor="middle" fill="#2a2a2a" font-weight="normal" font-family='"Liberation Sans", sans-serif' stroke="#2a2a2a" stroke-width="0.18">Christensenellaceae</text>
<text x="33.30" y="690.60" font-size="6.4" text-anchor="middle" fill="#2a2a2a" font-weight="normal" font-family='"Liberation Sans", sans-serif' stroke="#2a2a2a" stroke-width="0.18">Peptococcaceae</text>
<text x="174.10" y="691.20" font-size="6.4" text-anchor="middle" fill="#2a2a2a" font-weight="normal" font-family='"Liberation Sans", sans-serif' stroke="#2a2a2a" stroke-width="0.18">Desulfovibrionaceae</text>
<text x="244.30" y="691.10" font-size="6.4" text-anchor="middle" fill="#2a2a2a" font-weight="normal" font-family='"Liberation Sans", sans-serif' stroke="#2a2a2a" stroke-width="0.18">Bifidobacteriaceae</text>
<text x="282.30" y="698.10" font-size="6.4" text-anchor="middle" fill="#2a2a2a" font-weight="normal" font-family='"Liberation Sans", sans-serif' stroke="#2a2a2a" stroke-width="0.18">Bacteroidaceae</text>
<text x="137.10" y="717.40" font-size="6.4" text-anchor="middle" fill="#2a2a2a" font-weight="normal" font-family='"Liberation Sans", sans-serif' stroke="#2a2a2a" stroke-width="0.18">Deferribacteraceae</text>
<text x="86.60" y="723.20" font-size="6.4" text-anchor="middle" fill="#2a2a2a" font-weight="normal" font-family='"Liberation Sans", sans-serif' stroke="#2a2a2a" stroke-width="0.18">Porphyromonadaceae</text>
<text x="168.90" y="728.10" font-size="6.4" text-anchor="middle" fill="#2a2a2a" font-weight="normal" font-family='"Liberation Sans", sans-serif' stroke="#2a2a2a" stroke-width="0.18">[Odoribacteraceae]</text>
<text x="225.40" y="725.90" font-size="6.4" text-anchor="middle" fill="#2a2a2a" font-weight="normal" font-family='"Liberation Sans", sans-serif' stroke="#2a2a2a" stroke-width="0.18">Turicibacteraceae</text>
<text x="39.00" y="740.80" font-size="6.4" text-anchor="middle" fill="#2a2a2a" font-weight="normal" font-family='"Liberation Sans", sans-serif' stroke="#2a2a2a" stroke-width="0.18">unclassified_Bacteroidales</text>
<text x="257.50" y="746.80" font-size="6.4" text-anchor="middle" fill="#2a2a2a" font-weight="normal" font-family='"Liberation Sans", sans-serif' stroke="#2a2a2a" stroke-width="0.18">Alcaligenaceae</text>
<text x="325.00" y="742.20" font-size="6.4" text-anchor="middle" fill="#2a2a2a" font-weight="normal" font-family='"Liberation Sans", sans-serif' stroke="#2a2a2a" stroke-width="0.18">Nitrospiraceae</text>
<text x="200.60" y="757.60" font-size="6.4" text-anchor="middle" fill="#2a2a2a" font-weight="normal" font-family='"Liberation Sans", sans-serif' stroke="#2a2a2a" stroke-width="0.18">Prevotellaceae</text>
<text x="66.80" y="779.90" font-size="6.4" text-anchor="middle" fill="#2a2a2a" font-weight="normal" font-family='"Liberation Sans", sans-serif' stroke="#2a2a2a" stroke-width="0.18">[Mogibacteriaceae]</text>
<text x="268.40" y="781.90" font-size="6.4" text-anchor="middle" fill="#2a2a2a" font-weight="normal" font-family='"Liberation Sans", sans-serif' stroke="#2a2a2a" stroke-width="0.18">Lachnospiraceae</text>
<text x="312.50" y="793.00" font-size="6.4" text-anchor="middle" fill="#2a2a2a" font-weight="normal" font-family='"Liberation Sans", sans-serif' stroke="#2a2a2a" stroke-width="0.18">unclassified_Betaproteobacteria</text>
<text x="116.90" y="797.00" font-size="6.4" text-anchor="middle" fill="#2a2a2a" font-weight="normal" font-family='"Liberation Sans", sans-serif' stroke="#2a2a2a" stroke-width="0.18">unclassified_Clostridiales</text>
<text x="224.30" y="801.30" font-size="6.4" text-anchor="middle" fill="#2a2a2a" font-weight="normal" font-family='"Liberation Sans", sans-serif' stroke="#2a2a2a" stroke-width="0.18">[Paraprevotellaceae]</text>
<text x="21.10" y="819.90" font-size="6.4" text-anchor="middle" fill="#2a2a2a" font-weight="normal" font-family='"Liberation Sans", sans-serif' stroke="#2a2a2a" stroke-width="0.18">Clostridiaceae</text>
<text x="165.20" y="832.00" font-size="6.4" text-anchor="middle" fill="#2a2a2a" font-weight="normal" font-family='"Liberation Sans", sans-serif' stroke="#2a2a2a" stroke-width="0.18">Streptococcaceae</text>
<text x="331.90" y="596.50" font-size="8.0" text-anchor="start" fill="#444" font-weight="normal" font-family='"Liberation Sans", sans-serif'  stroke="#444" stroke-width="0.22">Group</text>
<rect x="333.00" y="603.40" width="3.40" height="3.40" fill="#F3B94A" stroke="#777" stroke-width="0.8"/>
<text x="341.50" y="608.40" font-size="8.4" text-anchor="start" fill="#444" font-weight="normal" font-family='"Liberation Sans", sans-serif'  stroke="#444" stroke-width="0.22">NC</text>
<rect x="333.00" y="612.80" width="3.40" height="3.40" fill="#D8125F" stroke="#777" stroke-width="0.8"/>
<text x="341.50" y="617.80" font-size="8.4" text-anchor="start" fill="#444" font-weight="normal" font-family='"Liberation Sans", sans-serif'  stroke="#444" stroke-width="0.22">HD</text>
<rect x="333.00" y="622.20" width="3.40" height="3.40" fill="#5EC1B5" stroke="#777" stroke-width="0.8"/>
<text x="341.50" y="627.20" font-size="8.4" text-anchor="start" fill="#444" font-weight="normal" font-family='"Liberation Sans", sans-serif'  stroke="#444" stroke-width="0.22">LG</text>
<text x="327.70" y="645.00" font-size="6.9" text-anchor="start" fill="#333" font-weight="normal" font-family='"Liberation Sans", sans-serif'  stroke="#333" stroke-width="0.22">Similarity</text>
<line x1="330.30" y1="651.50" x2="337.30" y2="651.50" stroke="#1E3A1E" stroke-width="1.5" />
<text x="339.10" y="654.10" font-size="7.2" text-anchor="start" fill="#333" font-weight="normal" font-family='"Liberation Sans", sans-serif'  stroke="#333" stroke-width="0.22">−1.0</text>
<line x1="330.30" y1="659.06" x2="337.30" y2="659.06" stroke="#2E8B3A" stroke-width="1.5" />
<text x="339.10" y="661.66" font-size="7.2" text-anchor="start" fill="#333" font-weight="normal" font-family='"Liberation Sans", sans-serif'  stroke="#333" stroke-width="0.22">−0.9</text>
<line x1="330.30" y1="666.62" x2="337.30" y2="666.62" stroke="#5DBB63" stroke-width="1.5" />
<text x="339.10" y="669.22" font-size="7.2" text-anchor="start" fill="#333" font-weight="normal" font-family='"Liberation Sans", sans-serif'  stroke="#333" stroke-width="0.22">−0.8</text>
<line x1="330.30" y1="674.18" x2="337.30" y2="674.18" stroke="#A8DCA8" stroke-width="1.5" />
<text x="339.10" y="676.78" font-size="7.2" text-anchor="start" fill="#333" font-weight="normal" font-family='"Liberation Sans", sans-serif'  stroke="#333" stroke-width="0.22">−0.7</text>
<line x1="330.30" y1="681.74" x2="337.30" y2="681.74" stroke="#F6B8A8" stroke-width="1.5" />
<text x="339.10" y="684.34" font-size="7.2" text-anchor="start" fill="#333" font-weight="normal" font-family='"Liberation Sans", sans-serif'  stroke="#333" stroke-width="0.22">0.7</text>
<line x1="330.30" y1="689.30" x2="337.30" y2="689.30" stroke="#EE7A6A" stroke-width="1.5" />
<text x="339.10" y="691.90" font-size="7.2" text-anchor="start" fill="#333" font-weight="normal" font-family='"Liberation Sans", sans-serif'  stroke="#333" stroke-width="0.22">0.8</text>
<line x1="330.30" y1="696.86" x2="337.30" y2="696.86" stroke="#D0202A" stroke-width="1.5" />
<text x="339.10" y="699.46" font-size="7.2" text-anchor="start" fill="#333" font-weight="normal" font-family='"Liberation Sans", sans-serif'  stroke="#333" stroke-width="0.22">0.9</text>
<line x1="330.30" y1="704.42" x2="337.30" y2="704.42" stroke="#700010" stroke-width="1.5" />
<text x="339.10" y="707.02" font-size="7.2" text-anchor="start" fill="#333" font-weight="normal" font-family='"Liberation Sans", sans-serif'  stroke="#333" stroke-width="0.22">1.0</text>
<text x="388.50" y="578.30" font-size="12" text-anchor="start" fill="#111" font-weight="bold" font-family='"Liberation Serif", serif' >h</text>
<rect x="394.70" y="588.60" width="25.09" height="12.97" fill="#f59195" />
<rect x="419.49" y="588.60" width="25.09" height="12.97" fill="#f69fa2" />
<rect x="444.28" y="588.60" width="25.09" height="12.97" fill="#f59195" />
<rect x="469.07" y="588.60" width="25.09" height="12.97" fill="#f7acb0" />
<rect x="493.86" y="588.60" width="25.09" height="12.97" fill="#f8babc" />
<rect x="518.65" y="588.60" width="25.09" height="12.97" fill="#f8babc" />
<rect x="543.44" y="588.60" width="25.09" height="12.97" fill="#f8babc" />
<rect x="568.23" y="588.60" width="25.09" height="12.97" fill="#f7acb0" />
<rect x="394.70" y="601.27" width="25.09" height="12.97" fill="#fbd3d5" />
<rect x="419.49" y="601.27" width="25.09" height="12.97" fill="#f1666c" />
<rect x="444.28" y="601.27" width="25.09" height="12.97" fill="#f69fa2" />
<rect x="469.07" y="601.27" width="25.09" height="12.97" fill="#fce7e7" />
<rect x="493.86" y="601.27" width="25.09" height="12.97" fill="#f8babc" />
<rect x="518.65" y="601.27" width="25.09" height="12.97" fill="#fdf2f2" />
<rect x="543.44" y="601.27" width="25.09" height="12.97" fill="#f9c7c9" />
<rect x="568.23" y="601.27" width="25.09" height="12.97" fill="#f8babc" />
<rect x="394.70" y="613.94" width="25.09" height="12.97" fill="#f59195" />
<rect x="419.49" y="613.94" width="25.09" height="12.97" fill="#f1666c" />
<rect x="444.28" y="613.94" width="25.09" height="12.97" fill="#f59195" />
<rect x="469.07" y="613.94" width="25.09" height="12.97" fill="#fce0e1" />
<rect x="493.86" y="613.94" width="25.09" height="12.97" fill="#fce0e1" />
<rect x="518.65" y="613.94" width="25.09" height="12.97" fill="#fdf2f2" />
<rect x="543.44" y="613.94" width="25.09" height="12.97" fill="#f8babc" />
<rect x="568.23" y="613.94" width="25.09" height="12.97" fill="#f8babc" />
<rect x="394.70" y="626.61" width="25.09" height="12.97" fill="#f9c7c9" />
<rect x="419.49" y="626.61" width="25.09" height="12.97" fill="#f9c7c9" />
<rect x="444.28" y="626.61" width="25.09" height="12.97" fill="#ffffff" />
<rect x="469.07" y="626.61" width="25.09" height="12.97" fill="#f8babc" />
<rect x="493.86" y="626.61" width="25.09" height="12.97" fill="#fce7e7" />
<rect x="518.65" y="626.61" width="25.09" height="12.97" fill="#f1666c" />
<rect x="543.44" y="626.61" width="25.09" height="12.97" fill="#f1666c" />
<rect x="568.23" y="626.61" width="25.09" height="12.97" fill="#f1666c" />
<rect x="394.70" y="639.28" width="25.09" height="12.97" fill="#f69fa2" />
<rect x="419.49" y="639.28" width="25.09" height="12.97" fill="#ef575e" />
<rect x="444.28" y="639.28" width="25.09" height="12.97" fill="#f2757a" />
<rect x="469.07" y="639.28" width="25.09" height="12.97" fill="#f69fa2" />
<rect x="493.86" y="639.28" width="25.09" height="12.97" fill="#f2757a" />
<rect x="518.65" y="639.28" width="25.09" height="12.97" fill="#f69fa2" />
<rect x="543.44" y="639.28" width="25.09" height="12.97" fill="#ef575e" />
<rect x="568.23" y="639.28" width="25.09" height="12.97" fill="#ef575e" />
<rect x="394.70" y="651.95" width="25.09" height="12.97" fill="#f69fa2" />
<rect x="419.49" y="651.95" width="25.09" height="12.97" fill="#f38388" />
<rect x="444.28" y="651.95" width="25.09" height="12.97" fill="#f38388" />
<rect x="469.07" y="651.95" width="25.09" height="12.97" fill="#f38388" />
<rect x="493.86" y="651.95" width="25.09" height="12.97" fill="#f59195" />
<rect x="518.65" y="651.95" width="25.09" height="12.97" fill="#ee484f" />
<rect x="543.44" y="651.95" width="25.09" height="12.97" fill="#ee484f" />
<rect x="568.23" y="651.95" width="25.09" height="12.97" fill="#ee484f" />
<rect x="394.70" y="664.62" width="25.09" height="12.97" fill="#f59195" />
<rect x="419.49" y="664.62" width="25.09" height="12.97" fill="#f1666c" />
<rect x="444.28" y="664.62" width="25.09" height="12.97" fill="#f1666c" />
<rect x="469.07" y="664.62" width="25.09" height="12.97" fill="#f1666c" />
<rect x="493.86" y="664.62" width="25.09" height="12.97" fill="#f38388" />
<rect x="518.65" y="664.62" width="25.09" height="12.97" fill="#ed3941" />
<rect x="543.44" y="664.62" width="25.09" height="12.97" fill="#ed3941" />
<rect x="568.23" y="664.62" width="25.09" height="12.97" fill="#ec2c34" />
<rect x="394.70" y="677.29" width="25.09" height="12.97" fill="#b2d0eb" />
<rect x="419.49" y="677.29" width="25.09" height="12.97" fill="#599bd4" />
<rect x="444.28" y="677.29" width="25.09" height="12.97" fill="#66a2d7" />
<rect x="469.07" y="677.29" width="25.09" height="12.97" fill="#99c1e4" />
<rect x="493.86" y="677.29" width="25.09" height="12.97" fill="#fce0e1" />
<rect x="518.65" y="677.29" width="25.09" height="12.97" fill="#bfd8ee" />
<rect x="543.44" y="677.29" width="25.09" height="12.97" fill="#599bd4" />
<rect x="568.23" y="677.29" width="25.09" height="12.97" fill="#a6c9e7" />
<rect x="394.70" y="689.96" width="25.09" height="12.97" fill="#73aada" />
<rect x="419.49" y="689.96" width="25.09" height="12.97" fill="#73aada" />
<rect x="444.28" y="689.96" width="25.09" height="12.97" fill="#73aada" />
<rect x="469.07" y="689.96" width="25.09" height="12.97" fill="#f2f7fb" />
<rect x="493.86" y="689.96" width="25.09" height="12.97" fill="#fef8f8" />
<rect x="518.65" y="689.96" width="25.09" height="12.97" fill="#fef8f8" />
<rect x="543.44" y="689.96" width="25.09" height="12.97" fill="#e5eff8" />
<rect x="568.23" y="689.96" width="25.09" height="12.97" fill="#a6c9e7" />
<rect x="394.70" y="702.63" width="25.09" height="12.97" fill="#8cb9e1" />
<rect x="419.49" y="702.63" width="25.09" height="12.97" fill="#99c1e4" />
<rect x="444.28" y="702.63" width="25.09" height="12.97" fill="#b2d0eb" />
<rect x="469.07" y="702.63" width="25.09" height="12.97" fill="#e0ecf7" />
<rect x="493.86" y="702.63" width="25.09" height="12.97" fill="#bfd8ee" />
<rect x="518.65" y="702.63" width="25.09" height="12.97" fill="#fce7e7" />
<rect x="543.44" y="702.63" width="25.09" height="12.97" fill="#fef8f8" />
<rect x="568.23" y="702.63" width="25.09" height="12.97" fill="#a6c9e7" />
<rect x="394.70" y="715.30" width="25.09" height="12.97" fill="#b2d0eb" />
<rect x="419.49" y="715.30" width="25.09" height="12.97" fill="#fefafa" />
<rect x="444.28" y="715.30" width="25.09" height="12.97" fill="#fce0e1" />
<rect x="469.07" y="715.30" width="25.09" height="12.97" fill="#b2d0eb" />
<rect x="493.86" y="715.30" width="25.09" height="12.97" fill="#eaf2f9" />
<rect x="518.65" y="715.30" width="25.09" height="12.97" fill="#73aada" />
<rect x="543.44" y="715.30" width="25.09" height="12.97" fill="#99c1e4" />
<rect x="568.23" y="715.30" width="25.09" height="12.97" fill="#8cb9e1" />
<rect x="394.70" y="727.97" width="25.09" height="12.97" fill="#fce7e7" />
<rect x="419.49" y="727.97" width="25.09" height="12.97" fill="#fce7e7" />
<rect x="444.28" y="727.97" width="25.09" height="12.97" fill="#fbd8da" />
<rect x="469.07" y="727.97" width="25.09" height="12.97" fill="#99c1e4" />
<rect x="493.86" y="727.97" width="25.09" height="12.97" fill="#a6c9e7" />
<rect x="518.65" y="727.97" width="25.09" height="12.97" fill="#599bd4" />
<rect x="543.44" y="727.97" width="25.09" height="12.97" fill="#7fb2dd" />
<rect x="568.23" y="727.97" width="25.09" height="12.97" fill="#a6c9e7" />
<rect x="394.70" y="740.64" width="25.09" height="12.97" fill="#f7fafd" />
<rect x="419.49" y="740.64" width="25.09" height="12.97" fill="#cce0f1" />
<rect x="444.28" y="740.64" width="25.09" height="12.97" fill="#e0ecf7" />
<rect x="469.07" y="740.64" width="25.09" height="12.97" fill="#7fb2dd" />
<rect x="493.86" y="740.64" width="25.09" height="12.97" fill="#99c1e4" />
<rect x="518.65" y="740.64" width="25.09" height="12.97" fill="#66a2d7" />
<rect x="543.44" y="740.64" width="25.09" height="12.97" fill="#66a2d7" />
<rect x="568.23" y="740.64" width="25.09" height="12.97" fill="#8cb9e1" />
<rect x="394.70" y="753.31" width="25.09" height="12.97" fill="#e5eff8" />
<rect x="419.49" y="753.31" width="25.09" height="12.97" fill="#f9fbfd" />
<rect x="444.28" y="753.31" width="25.09" height="12.97" fill="#f7fafd" />
<rect x="469.07" y="753.31" width="25.09" height="12.97" fill="#b7d4ec" />
<rect x="493.86" y="753.31" width="25.09" height="12.97" fill="#9ec4e5" />
<rect x="518.65" y="753.31" width="25.09" height="12.97" fill="#599bd4" />
<rect x="543.44" y="753.31" width="25.09" height="12.97" fill="#7fb2dd" />
<rect x="568.23" y="753.31" width="25.09" height="12.97" fill="#7fb2dd" />
<rect x="394.70" y="765.98" width="25.09" height="12.97" fill="#f2f7fb" />
<rect x="419.49" y="765.98" width="25.09" height="12.97" fill="#fef6f6" />
<rect x="444.28" y="765.98" width="25.09" height="12.97" fill="#f9fbfd" />
<rect x="469.07" y="765.98" width="25.09" height="12.97" fill="#b2d0eb" />
<rect x="493.86" y="765.98" width="25.09" height="12.97" fill="#9ec4e5" />
<rect x="518.65" y="765.98" width="25.09" height="12.97" fill="#4d93d0" />
<rect x="543.44" y="765.98" width="25.09" height="12.97" fill="#73aada" />
<rect x="568.23" y="765.98" width="25.09" height="12.97" fill="#7fb2dd" />
<rect x="394.70" y="778.65" width="25.09" height="12.97" fill="#8cb9e1" />
<rect x="419.49" y="778.65" width="25.09" height="12.97" fill="#8cb9e1" />
<rect x="444.28" y="778.65" width="25.09" height="12.97" fill="#b2d0eb" />
<rect x="469.07" y="778.65" width="25.09" height="12.97" fill="#7fb2dd" />
<rect x="493.86" y="778.65" width="25.09" height="12.97" fill="#99c1e4" />
<rect x="518.65" y="778.65" width="25.09" height="12.97" fill="#3384ca" />
<rect x="543.44" y="778.65" width="25.09" height="12.97" fill="#4d93d0" />
<rect x="568.23" y="778.65" width="25.09" height="12.97" fill="#408bcd" />
<rect x="394.70" y="791.32" width="25.09" height="12.97" fill="#8cb9e1" />
<rect x="419.49" y="791.32" width="25.09" height="12.97" fill="#bfd8ee" />
<rect x="444.28" y="791.32" width="25.09" height="12.97" fill="#b2d0eb" />
<rect x="469.07" y="791.32" width="25.09" height="12.97" fill="#99c1e4" />
<rect x="493.86" y="791.32" width="25.09" height="12.97" fill="#7fb2dd" />
<rect x="518.65" y="791.32" width="25.09" height="12.97" fill="#3384ca" />
<rect x="543.44" y="791.32" width="25.09" height="12.97" fill="#4d93d0" />
<rect x="568.23" y="791.32" width="25.09" height="12.97" fill="#4d93d0" />
<rect x="394.70" y="803.99" width="25.09" height="12.97" fill="#8cb9e1" />
<rect x="419.49" y="803.99" width="25.09" height="12.97" fill="#599bd4" />
<rect x="444.28" y="803.99" width="25.09" height="12.97" fill="#73aada" />
<rect x="469.07" y="803.99" width="25.09" height="12.97" fill="#8cb9e1" />
<rect x="493.86" y="803.99" width="25.09" height="12.97" fill="#bfd8ee" />
<rect x="518.65" y="803.99" width="25.09" height="12.97" fill="#99c1e4" />
<rect x="543.44" y="803.99" width="25.09" height="12.97" fill="#7fb2dd" />
<rect x="568.23" y="803.99" width="25.09" height="12.97" fill="#599bd4" />
<rect x="394.70" y="816.66" width="25.09" height="12.97" fill="#99c1e4" />
<rect x="419.49" y="816.66" width="25.09" height="12.97" fill="#66a2d7" />
<rect x="444.28" y="816.66" width="25.09" height="12.97" fill="#8cb9e1" />
<rect x="469.07" y="816.66" width="25.09" height="12.97" fill="#66a2d7" />
<rect x="493.86" y="816.66" width="25.09" height="12.97" fill="#7fb2dd" />
<rect x="518.65" y="816.66" width="25.09" height="12.97" fill="#8cb9e1" />
<rect x="543.44" y="816.66" width="25.09" height="12.97" fill="#408bcd" />
<rect x="568.23" y="816.66" width="25.09" height="12.97" fill="#7fb2dd" />
<rect x="394.70" y="829.33" width="25.09" height="12.97" fill="#b2d0eb" />
<rect x="419.49" y="829.33" width="25.09" height="12.97" fill="#66a2d7" />
<rect x="444.28" y="829.33" width="25.09" height="12.97" fill="#66a2d7" />
<rect x="469.07" y="829.33" width="25.09" height="12.97" fill="#73aada" />
<rect x="493.86" y="829.33" width="25.09" height="12.97" fill="#8cb9e1" />
<rect x="518.65" y="829.33" width="25.09" height="12.97" fill="#73aada" />
<rect x="543.44" y="829.33" width="25.09" height="12.97" fill="#408bcd" />
<rect x="568.23" y="829.33" width="25.09" height="12.97" fill="#599bd4" />
<path d="M403.29,594.94H410.89M407.09,591.34V598.54" stroke="#4a1a20" stroke-width="0.8"/>
<path d="M452.87,594.94H460.47M456.67,591.34V598.54" stroke="#4a1a20" stroke-width="0.8"/>
<path d="M431.88,604.50L431.88,610.71M429.20,606.06L434.57,609.15M434.57,606.06L429.20,609.15" stroke="#5a1420" stroke-width="1.35"/>
<path d="M452.87,607.61H460.47M456.67,604.00V611.21" stroke="#4a1a20" stroke-width="0.8"/>
<path d="M403.29,620.27H410.89M407.09,616.67V623.88" stroke="#4a1a20" stroke-width="0.8"/>
<path d="M431.88,617.17L431.88,623.38M429.20,618.73L434.57,621.82M434.57,618.73L429.20,621.82" stroke="#5a1420" stroke-width="1.35"/>
<path d="M452.87,620.27H460.47M456.67,616.67V623.88" stroke="#4a1a20" stroke-width="0.8"/>
<path d="M555.84,629.85L555.84,636.05M553.15,631.40L558.52,634.50M558.52,631.40L553.15,634.50" stroke="#5a1420" stroke-width="1.35"/>
<path d="M580.62,629.85L580.62,636.05M577.94,631.40L583.31,634.50M583.31,631.40L577.94,634.50" stroke="#5a1420" stroke-width="1.35"/>
<path d="M431.88,642.51L431.88,648.72M429.20,644.07L434.57,647.16M434.57,644.07L429.20,647.16" stroke="#5a1420" stroke-width="1.35"/>
<path d="M456.67,642.51L456.67,648.72M453.99,644.07L459.36,647.16M459.36,644.07L453.99,647.16" stroke="#5a1420" stroke-width="1.35"/>
<path d="M502.45,645.62H510.06M506.25,642.01V649.22" stroke="#4a1a20" stroke-width="0.8"/>
<path d="M527.25,645.62H534.84M531.04,642.01V649.22" stroke="#4a1a20" stroke-width="0.8"/>
<path d="M555.84,642.51L555.84,648.72M553.15,644.07L558.52,647.16M558.52,644.07L553.15,647.16" stroke="#5a1420" stroke-width="1.35"/>
<path d="M580.62,642.51L580.62,648.72M577.94,644.07L583.31,647.16M583.31,644.07L577.94,647.16" stroke="#5a1420" stroke-width="1.35"/>
<path d="M428.08,658.29H435.69M431.88,654.69V661.89" stroke="#4a1a20" stroke-width="0.8"/>
<path d="M452.87,658.29H460.47M456.67,654.69V661.89" stroke="#4a1a20" stroke-width="0.8"/>
<path d="M477.66,658.29H485.26M481.46,654.69V661.89" stroke="#4a1a20" stroke-width="0.8"/>
<path d="M502.45,658.29H510.06M506.25,654.69V661.89" stroke="#4a1a20" stroke-width="0.8"/>
<path d="M531.04,655.19L531.04,661.39M528.36,656.74L533.73,659.84M533.73,656.74L528.36,659.84" stroke="#5a1420" stroke-width="1.35"/>
<path d="M555.84,655.19L555.84,661.39M553.15,656.74L558.52,659.84M558.52,656.74L553.15,659.84" stroke="#5a1420" stroke-width="1.35"/>
<path d="M580.62,655.19L580.62,661.39M577.94,656.74L583.31,659.84M583.31,656.74L577.94,659.84" stroke="#5a1420" stroke-width="1.35"/>
<path d="M403.29,670.96H410.89M407.09,667.36V674.56" stroke="#4a1a20" stroke-width="0.8"/>
<path d="M431.88,667.86L431.88,674.06M429.20,669.41L434.57,672.50M434.57,669.41L429.20,672.50" stroke="#5a1420" stroke-width="1.35"/>
<path d="M456.67,667.86L456.67,674.06M453.99,669.41L459.36,672.50M459.36,669.41L453.99,672.50" stroke="#5a1420" stroke-width="1.35"/>
<path d="M481.46,667.86L481.46,674.06M478.78,669.41L484.15,672.50M484.15,669.41L478.78,672.50" stroke="#5a1420" stroke-width="1.35"/>
<path d="M531.04,667.86L531.04,674.06M528.36,669.41L533.73,672.50M533.73,669.41L528.36,672.50" stroke="#5a1420" stroke-width="1.35"/>
<path d="M555.84,667.86L555.84,674.06M553.15,669.41L558.52,672.50M558.52,669.41L553.15,672.50" stroke="#5a1420" stroke-width="1.35"/>
<path d="M580.62,667.86L580.62,674.06M577.94,669.41L583.31,672.50M583.31,669.41L577.94,672.50" stroke="#5a1420" stroke-width="1.35"/>
<path d="M431.88,680.52L431.88,686.73M429.20,682.08L434.57,685.17M434.57,682.08L429.20,685.17" stroke="#14305a" stroke-width="1.35"/>
<path d="M456.67,680.52L456.67,686.73M453.99,682.08L459.36,685.17M459.36,682.08L453.99,685.17" stroke="#14305a" stroke-width="1.35"/>
<path d="M552.04,683.62H559.63M555.84,680.02V687.23" stroke="#1a2a40" stroke-width="0.8"/>
<path d="M403.29,696.30H410.89M407.09,692.70V699.90" stroke="#1a2a40" stroke-width="0.8"/>
<path d="M428.08,696.30H435.69M431.88,692.70V699.90" stroke="#1a2a40" stroke-width="0.8"/>
<path d="M452.87,696.30H460.47M456.67,692.70V699.90" stroke="#1a2a40" stroke-width="0.8"/>
<path d="M527.25,721.63H534.84M531.04,718.03V725.24" stroke="#1a2a40" stroke-width="0.8"/>
<path d="M576.83,721.63H584.42M580.62,718.03V725.24" stroke="#1a2a40" stroke-width="0.8"/>
<path d="M531.04,731.21L531.04,737.41M528.36,732.76L533.73,735.86M533.73,732.76L528.36,735.86" stroke="#14305a" stroke-width="1.35"/>
<path d="M552.04,734.31H559.63M555.84,730.71V737.91" stroke="#1a2a40" stroke-width="0.8"/>
<path d="M477.66,746.98H485.26M481.46,743.38V750.58" stroke="#1a2a40" stroke-width="0.8"/>
<path d="M555.84,743.88L555.84,750.08M553.15,745.43L558.52,748.52M558.52,745.43L553.15,748.52" stroke="#14305a" stroke-width="1.35"/>
<path d="M576.83,746.98H584.42M580.62,743.38V750.58" stroke="#1a2a40" stroke-width="0.8"/>
<path d="M531.04,756.54L531.04,762.75M528.36,758.10L533.73,761.19M533.73,758.10L528.36,761.19" stroke="#14305a" stroke-width="1.35"/>
<path d="M552.04,759.64H559.63M555.84,756.04V763.25" stroke="#1a2a40" stroke-width="0.8"/>
<path d="M576.83,759.64H584.42M580.62,756.04V763.25" stroke="#1a2a40" stroke-width="0.8"/>
<path d="M531.04,769.22L531.04,775.42M528.36,770.77L533.73,773.87M533.73,770.77L528.36,773.87" stroke="#14305a" stroke-width="1.35"/>
<path d="M552.04,772.32H559.63M555.84,768.72V775.92" stroke="#1a2a40" stroke-width="0.8"/>
<path d="M576.83,772.32H584.42M580.62,768.72V775.92" stroke="#1a2a40" stroke-width="0.8"/>
<path d="M477.66,784.99H485.26M481.46,781.38V788.59" stroke="#1a2a40" stroke-width="0.8"/>
<path d="M531.04,781.88L531.04,788.09M528.36,783.44L533.73,786.53M533.73,783.44L528.36,786.53" stroke="#14305a" stroke-width="1.35"/>
<path d="M555.84,781.88L555.84,788.09M553.15,783.44L558.52,786.53M558.52,783.44L553.15,786.53" stroke="#14305a" stroke-width="1.35"/>
<path d="M580.62,781.88L580.62,788.09M577.94,783.44L583.31,786.53M583.31,783.44L577.94,786.53" stroke="#14305a" stroke-width="1.35"/>
<path d="M502.45,797.65H510.06M506.25,794.05V801.25" stroke="#1a2a40" stroke-width="0.8"/>
<path d="M531.04,794.55L531.04,800.75M528.36,796.11L533.73,799.20M533.73,796.11L528.36,799.20" stroke="#14305a" stroke-width="1.35"/>
<path d="M555.84,794.55L555.84,800.75M553.15,796.11L558.52,799.20M558.52,796.11L553.15,799.20" stroke="#14305a" stroke-width="1.35"/>
<path d="M580.62,794.55L580.62,800.75M577.94,796.11L583.31,799.20M583.31,796.11L577.94,799.20" stroke="#14305a" stroke-width="1.35"/>
<path d="M431.88,807.23L431.88,813.43M429.20,808.78L434.57,811.88M434.57,808.78L429.20,811.88" stroke="#14305a" stroke-width="1.35"/>
<path d="M452.87,810.33H460.47M456.67,806.73V813.93" stroke="#1a2a40" stroke-width="0.8"/>
<path d="M552.04,810.33H559.63M555.84,806.73V813.93" stroke="#1a2a40" stroke-width="0.8"/>
<path d="M580.62,807.23L580.62,813.43M577.94,808.78L583.31,811.88M583.31,808.78L577.94,811.88" stroke="#14305a" stroke-width="1.35"/>
<path d="M428.08,823.00H435.69M431.88,819.39V826.60" stroke="#1a2a40" stroke-width="0.8"/>
<path d="M481.46,819.89L481.46,826.10M478.78,821.45L484.15,824.54M484.15,821.45L478.78,824.54" stroke="#14305a" stroke-width="1.35"/>
<path d="M502.45,823.00H510.06M506.25,819.39V826.60" stroke="#1a2a40" stroke-width="0.8"/>
<path d="M555.84,819.89L555.84,826.10M553.15,821.45L558.52,824.54M558.52,821.45L553.15,824.54" stroke="#14305a" stroke-width="1.35"/>
<path d="M576.83,823.00H584.42M580.62,819.39V826.60" stroke="#1a2a40" stroke-width="0.8"/>
<path d="M428.08,835.66H435.69M431.88,832.06V839.26" stroke="#1a2a40" stroke-width="0.8"/>
<path d="M452.87,835.66H460.47M456.67,832.06V839.26" stroke="#1a2a40" stroke-width="0.8"/>
<path d="M477.66,835.66H485.26M481.46,832.06V839.26" stroke="#1a2a40" stroke-width="0.8"/>
<path d="M531.04,832.56L531.04,838.76M528.36,834.12L533.73,837.21M533.73,834.12L528.36,837.21" stroke="#14305a" stroke-width="1.35"/>
<path d="M555.84,832.56L555.84,838.76M553.15,834.12L558.52,837.21M558.52,834.12L553.15,837.21" stroke="#14305a" stroke-width="1.35"/>
<path d="M580.62,832.56L580.62,838.76M577.94,834.12L583.31,837.21M583.31,834.12L577.94,837.21" stroke="#14305a" stroke-width="1.35"/>
<text x="594.80" y="597.94" font-size="6.6" text-anchor="start" fill="#333" font-weight="normal" font-family='"Liberation Sans", sans-serif'  stroke="#333" stroke-width="0.22">Deferribacteraceae</text>
<text x="594.80" y="610.61" font-size="6.6" text-anchor="start" fill="#333" font-weight="normal" font-family='"Liberation Sans", sans-serif'  stroke="#333" stroke-width="0.22">Dehalobacteriaceae</text>
<text x="594.80" y="623.27" font-size="6.6" text-anchor="start" fill="#333" font-weight="normal" font-family='"Liberation Sans", sans-serif'  stroke="#333" stroke-width="0.22">Peptococcaceae</text>
<text x="594.80" y="635.95" font-size="6.6" text-anchor="start" fill="#333" font-weight="normal" font-family='"Liberation Sans", sans-serif'  stroke="#333" stroke-width="0.22">Bacteroidaceae</text>
<text x="594.80" y="648.62" font-size="6.6" text-anchor="start" fill="#333" font-weight="normal" font-family='"Liberation Sans", sans-serif'  stroke="#333" stroke-width="0.22">Ruminococcaceae</text>
<text x="594.80" y="661.29" font-size="6.6" text-anchor="start" fill="#333" font-weight="normal" font-family='"Liberation Sans", sans-serif'  stroke="#333" stroke-width="0.22">Desulfovibrionaceae</text>
<text x="594.80" y="673.96" font-size="6.6" text-anchor="start" fill="#333" font-weight="normal" font-family='"Liberation Sans", sans-serif'  stroke="#333" stroke-width="0.22">Christensenellaceae</text>
<text x="594.80" y="686.62" font-size="6.6" text-anchor="start" fill="#333" font-weight="normal" font-family='"Liberation Sans", sans-serif'  stroke="#333" stroke-width="0.22">Coriobacteriaceae</text>
<text x="594.80" y="699.30" font-size="6.6" text-anchor="start" fill="#333" font-weight="normal" font-family='"Liberation Sans", sans-serif'  stroke="#333" stroke-width="0.22">Porphyromonadaceae</text>
<text x="594.80" y="711.97" font-size="6.6" text-anchor="start" fill="#333" font-weight="normal" font-family='"Liberation Sans", sans-serif'  stroke="#333" stroke-width="0.22">[Mogibacteriaceae]</text>
<text x="594.80" y="724.63" font-size="6.6" text-anchor="start" fill="#333" font-weight="normal" font-family='"Liberation Sans", sans-serif'  stroke="#333" stroke-width="0.22">Lachnospiraceae</text>
<text x="594.80" y="737.31" font-size="6.6" text-anchor="start" fill="#333" font-weight="normal" font-family='"Liberation Sans", sans-serif'  stroke="#333" stroke-width="0.22">[Odoribacteraceae]</text>
<text x="594.80" y="749.98" font-size="6.6" text-anchor="start" fill="#333" font-weight="normal" font-family='"Liberation Sans", sans-serif'  stroke="#333" stroke-width="0.22">F16</text>
<text x="594.80" y="762.64" font-size="6.6" text-anchor="start" fill="#333" font-weight="normal" font-family='"Liberation Sans", sans-serif'  stroke="#333" stroke-width="0.22">[Paraprevotellaceae]</text>
<text x="594.80" y="775.32" font-size="6.6" text-anchor="start" fill="#333" font-weight="normal" font-family='"Liberation Sans", sans-serif'  stroke="#333" stroke-width="0.22">Prevotellaceae</text>
<text x="594.80" y="787.99" font-size="6.6" text-anchor="start" fill="#333" font-weight="normal" font-family='"Liberation Sans", sans-serif'  stroke="#333" stroke-width="0.22">Turicibacteraceae</text>
<text x="594.80" y="800.65" font-size="6.6" text-anchor="start" fill="#333" font-weight="normal" font-family='"Liberation Sans", sans-serif'  stroke="#333" stroke-width="0.22">Alcaligenaceae</text>
<text x="594.80" y="813.33" font-size="6.6" text-anchor="start" fill="#333" font-weight="normal" font-family='"Liberation Sans", sans-serif'  stroke="#333" stroke-width="0.22">S24-7</text>
<text x="594.80" y="826.00" font-size="6.6" text-anchor="start" fill="#333" font-weight="normal" font-family='"Liberation Sans", sans-serif'  stroke="#333" stroke-width="0.22">Lactobacillaceae</text>
<text x="594.80" y="838.66" font-size="6.6" text-anchor="start" fill="#333" font-weight="normal" font-family='"Liberation Sans", sans-serif'  stroke="#333" stroke-width="0.22">Bifidobacteriaceae</text>
<text x="409.49" y="845.50" font-size="6.9" text-anchor="end" fill="#333" font-weight="normal" font-family='"Liberation Sans", sans-serif' transform="rotate(-90 409.49499999999995 845.5)"  stroke="#333" stroke-width="0.22">MDA</text>
<text x="434.28" y="845.50" font-size="6.9" text-anchor="end" fill="#333" font-weight="normal" font-family='"Liberation Sans", sans-serif' transform="rotate(-90 434.28499999999997 845.5)"  stroke="#333" stroke-width="0.22">TC</text>
<text x="459.07" y="845.50" font-size="6.9" text-anchor="end" fill="#333" font-weight="normal" font-family='"Liberation Sans", sans-serif' transform="rotate(-90 459.07499999999993 845.5)"  stroke="#333" stroke-width="0.22">TG</text>
<text x="483.86" y="845.50" font-size="6.9" text-anchor="end" fill="#333" font-weight="normal" font-family='"Liberation Sans", sans-serif' transform="rotate(-90 483.86499999999995 845.5)"  stroke="#333" stroke-width="0.22">AST</text>
<text x="508.65" y="845.50" font-size="6.9" text-anchor="end" fill="#333" font-weight="normal" font-family='"Liberation Sans", sans-serif' transform="rotate(-90 508.655 845.5)"  stroke="#333" stroke-width="0.22">FFA</text>
<text x="533.44" y="845.50" font-size="6.9" text-anchor="end" fill="#333" font-weight="normal" font-family='"Liberation Sans", sans-serif' transform="rotate(-90 533.4449999999999 845.5)"  stroke="#333" stroke-width="0.22">weight</text>
<text x="558.24" y="845.50" font-size="6.9" text-anchor="end" fill="#333" font-weight="normal" font-family='"Liberation Sans", sans-serif' transform="rotate(-90 558.235 845.5)"  stroke="#333" stroke-width="0.22">ALT</text>
<text x="583.02" y="845.50" font-size="6.9" text-anchor="end" fill="#333" font-weight="normal" font-family='"Liberation Sans", sans-serif' transform="rotate(-90 583.025 845.5)"  stroke="#333" stroke-width="0.22">insulin</text>
<defs><linearGradient id="hgrad" x1="0" x2="0" y1="0" y2="1"><stop offset="0" stop-color="#EE3344"/><stop offset="0.5" stop-color="#FFFFFF"/><stop offset="1" stop-color="#2C7BB6"/></linearGradient></defs>
<rect x="662.00" y="588.10" width="4.30" height="65.40" fill="url(#hgrad)" />
<text x="668.00" y="597.80" font-size="6.8" text-anchor="start" fill="#333" font-weight="normal" font-family='"Liberation Sans", sans-serif'  stroke="#333" stroke-width="0.22">0.6</text>
<text x="668.00" y="623.00" font-size="6.8" text-anchor="start" fill="#333" font-weight="normal" font-family='"Liberation Sans", sans-serif'  stroke="#333" stroke-width="0.22">0</text>
<text x="668.20" y="648.00" font-size="6.8" text-anchor="start" fill="#333" font-weight="normal" font-family='"Liberation Sans", sans-serif'  stroke="#333" stroke-width="0.22">-0.6</text>
<path d="M431.88,588.60V583.40H456.67V588.60" fill="none" stroke="#888888" stroke-width="0.9"/>
<path d="M407.09,588.60V579.00H444.28V583.40" fill="none" stroke="#888888" stroke-width="0.9"/>
<path d="M481.46,588.60V580.00H506.25V588.60" fill="none" stroke="#888888" stroke-width="0.9"/>
<path d="M555.84,588.60V582.50H580.62V588.60" fill="none" stroke="#888888" stroke-width="0.9"/>
<path d="M531.04,588.60V579.40H568.23V582.50" fill="none" stroke="#888888" stroke-width="0.9"/>
<path d="M493.86,580.00V573.90H549.64V579.40" fill="none" stroke="#888888" stroke-width="0.9"/>
<path d="M425.69,579.00V565.30H521.75V573.90" fill="none" stroke="#888888" stroke-width="0.9"/>
<path d="M394.70,607.61H391.50V620.27H394.70" fill="none" stroke="#888888" stroke-width="0.9"/>
<path d="M394.70,594.94H389.00V613.94H391.50" fill="none" stroke="#888888" stroke-width="0.9"/>
<path d="M394.70,645.62H392.00V658.29H394.70" fill="none" stroke="#888888" stroke-width="0.9"/>
<path d="M392.00,651.95H390.00V670.96H394.70" fill="none" stroke="#888888" stroke-width="0.9"/>
<path d="M394.70,632.95H388.00V661.45H390.00" fill="none" stroke="#888888" stroke-width="0.9"/>
<path d="M389.00,604.44H387.50V647.20H388.00" fill="none" stroke="#888888" stroke-width="0.9"/>
<path d="M394.70,696.30H391.50V708.97H394.70" fill="none" stroke="#888888" stroke-width="0.9"/>
<path d="M394.70,683.62H388.50V702.63H391.50" fill="none" stroke="#888888" stroke-width="0.9"/>
<path d="M394.70,759.64H393.00V772.32H394.70" fill="none" stroke="#888888" stroke-width="0.9"/>
<path d="M394.70,746.98H392.00V765.98H393.00" fill="none" stroke="#888888" stroke-width="0.9"/>
<path d="M394.70,734.31H391.00V756.48H392.00" fill="none" stroke="#888888" stroke-width="0.9"/>
<path d="M394.70,721.63H390.00V737.31H391.00" fill="none" stroke="#888888" stroke-width="0.9"/>
<path d="M394.70,784.99H391.50V797.65H394.70" fill="none" stroke="#888888" stroke-width="0.9"/>
<path d="M394.70,823.00H392.00V835.66H394.70" fill="none" stroke="#888888" stroke-width="0.9"/>
<path d="M394.70,810.33H390.00V829.33H392.00" fill="none" stroke="#888888" stroke-width="0.9"/>
<path d="M391.50,791.32H387.50V819.83H390.00" fill="none" stroke="#888888" stroke-width="0.9"/>
<path d="M390.00,729.47H386.00V805.57H387.50" fill="none" stroke="#888888" stroke-width="0.9"/>
<path d="M388.50,693.13H385.80V767.52H386.00" fill="none" stroke="#888888" stroke-width="0.9"/>
<path d="M387.50,625.82H371.70V730.32H385.80" fill="none" stroke="#888888" stroke-width="0.9"/>
</svg></body></html>
